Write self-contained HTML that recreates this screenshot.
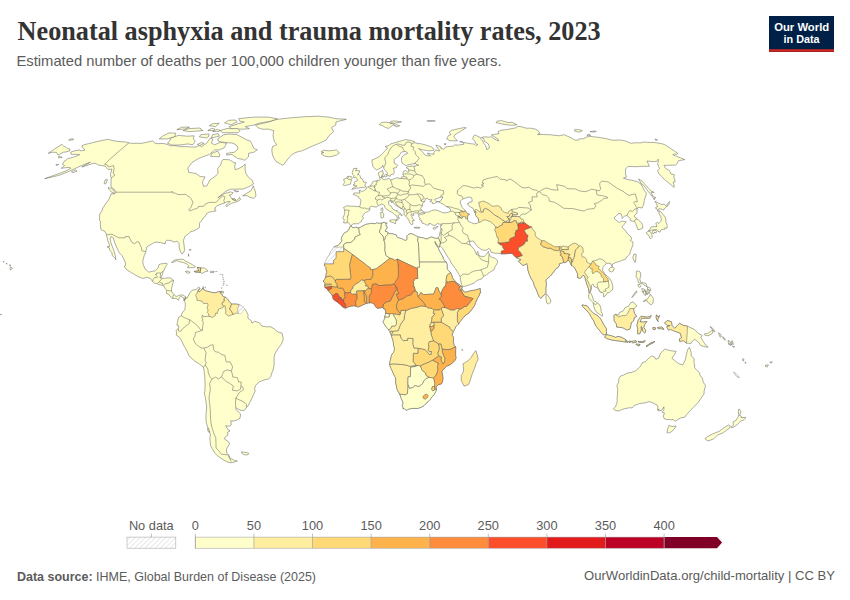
<!DOCTYPE html>
<html><head><meta charset="utf-8">
<style>
html,body{margin:0;padding:0;background:#fff;}
body{width:850px;height:600px;position:relative;overflow:hidden;font-family:"Liberation Sans",sans-serif;}
svg text{font-family:"Liberation Sans",sans-serif;}
</style></head><body>
<svg width="850" height="600" style="position:absolute;left:0;top:0">
<defs>
<pattern id="hatch" patternUnits="userSpaceOnUse" width="3.5" height="3.5" patternTransform="rotate(45)"><rect width="3.5" height="3.5" fill="#fff"/><line x1="0" y1="0" x2="0" y2="3.5" stroke="#d0d0d0" stroke-width="1.2"/></pattern>
<pattern id="hatch2" patternUnits="userSpaceOnUse" width="3.6" height="3.6" patternTransform="rotate(45)"><rect width="3.6" height="3.6" fill="#fff"/><line x1="0" y1="0" x2="0" y2="3.6" stroke="#d6d6d6" stroke-width="1.1"/></pattern>
</defs>
<text x="17.6" y="40.1" textLength="583" lengthAdjust="spacingAndGlyphs" style="font-family:'Liberation Serif',serif;font-weight:bold;font-size:27.5px;fill:#333">Neonatal asphyxia and trauma mortality rates, 2023</text>
<text x="16.5" y="66" textLength="485" lengthAdjust="spacingAndGlyphs" style="font-size:14.2px;fill:#5b5b5b">Estimated number of deaths per 100,000 children younger than five years.</text>
<rect x="769" y="16" width="65" height="36" fill="#002147"/>
<rect x="769" y="49.2" width="65" height="2.6" fill="#ce261e"/>
<text x="774.2" y="30.6" textLength="55" lengthAdjust="spacingAndGlyphs" style="font-size:11.4px;font-weight:bold;fill:#fff">Our World</text>
<text x="783.6" y="42.8" textLength="36" lengthAdjust="spacingAndGlyphs" style="font-size:11.4px;font-weight:bold;fill:#fff">in Data</text>
<g fill="#ffffcc" stroke="#5a5a5a" stroke-width="0.5" stroke-linejoin="round">
<path d="M350.2,226.2 L350.5,226.2 L351.5,225.9 L351.6,226.7 L352.9,227.7 L354.6,227.6 L356.7,227.1 L356.8,227.7 L358.3,228.0 L358.3,228.0 L360.2,227.5 L361.8,226.3 L363.3,225.9 L365.9,224.3 L368.0,224.1 L369.5,223.6 L371.7,223.3 L374.0,223.7 L375.5,223.6 L376.8,222.8 L377.9,223.3 L379.8,223.3 L381.6,223.2 L381.6,223.2 L381.9,223.2 L383.9,222.3 L384.3,222.3 L385.1,222.7 L385.2,223.4 L385.9,223.3 L386.8,222.8 L386.6,223.8 L385.8,224.6 L386.1,226.2 L386.5,226.3 L387.1,226.9 L387.0,228.0 L386.4,229.0 L385.5,230.1 L385.1,231.1 L386.0,231.9 L386.8,231.5 L387.3,232.2 L388.2,232.9 L388.2,232.9 L390.0,233.8 L391.9,233.7 L394.4,234.4 L396.4,235.0 L396.9,236.6 L397.6,237.6 L399.6,238.1 L401.6,238.7 L403.4,239.5 L405.0,240.5 L406.3,240.2 L407.1,239.2 L407.0,237.4 L407.0,235.8 L408.0,234.8 L408.9,234.2 L410.5,233.7 L412.5,234.1 L413.7,234.5 L415.6,235.8 L417.8,236.6 L418.3,237.1 L418.3,237.1 L419.1,237.2 L422.9,237.8 L424.7,238.4 L427.0,239.1 L428.9,238.1 L429.9,237.5 L431.2,237.1 L433.0,237.4 L434.1,238.0 L435.7,238.4 L437.5,238.3 L438.3,237.8 L438.3,237.8 L439.2,239.7 L440.3,242.6 L440.3,242.6 L439.9,244.0 L439.6,245.7 L439.3,246.7 L439.3,247.2 L438.1,246.4 L437.7,245.8 L436.7,244.4 L435.4,242.3 L435.0,241.4 L434.7,242.1 L435.3,243.4 L435.4,243.6 L436.0,244.9 L436.6,245.6 L437.6,247.3 L438.5,248.6 L438.8,249.7 L439.7,251.4 L440.4,252.7 L441.2,254.0 L442.0,255.6 L442.7,257.0 L443.4,257.2 L443.1,258.7 L444.5,260.3 L446.2,262.1 L446.2,262.1 L447.2,264.7 L447.1,266.8 L447.2,268.4 L447.6,269.7 L448.5,270.7 L450.6,272.5 L450.6,272.5 L451.7,275.2 L452.5,277.8 L452.9,278.8 L453.7,279.3 L454.7,280.6 L457.1,283.2 L459.0,284.5 L460.6,285.6 L461.6,286.4 L461.6,286.4 L462.2,287.1 L462.3,288.2 L461.2,288.7 L460.3,289.4 L461.8,289.2 L462.0,289.6 L462.0,289.6 L462.5,289.9 L464.5,292.1 L466.1,292.2 L468.4,291.4 L471.8,290.5 L474.1,290.3 L475.7,290.0 L478.4,289.0 L480.3,288.6 L480.2,290.8 L480.8,292.4 L479.9,292.9 L479.5,295.2 L477.8,297.8 L477.3,298.7 L475.6,302.5 L474.5,305.5 L472.7,308.3 L470.0,311.9 L467.4,314.1 L466.0,315.0 L463.2,317.6 L461.0,320.4 L459.5,322.1 L458.7,323.8 L458.7,323.8 L457.2,325.4 L455.5,326.8 L455.3,327.8 L454.2,330.0 L453.2,331.6 L453.2,331.6 L452.9,332.7 L452.2,335.1 L453.3,337.2 L453.7,339.0 L453.2,341.1 L453.6,342.7 L454.0,345.5 L455.7,346.8 L455.7,346.8 L455.7,349.4 L455.6,353.3 L455.7,355.9 L455.9,357.2 L455.9,358.6 L454.6,360.9 L453.8,361.7 L450.5,364.5 L446.8,366.1 L444.6,368.2 L441.9,371.2 L442.3,373.9 L442.8,376.3 L442.9,379.1 L442.5,381.7 L441.5,383.8 L438.3,384.7 L435.9,387.1 L436.3,388.0 L436.4,389.4 L436.4,389.4 L435.6,391.9 L434.1,394.5 L431.7,397.3 L430.2,399.5 L427.9,401.8 L425.8,403.6 L424.1,405.5 L421.1,407.3 L418.8,408.0 L417.0,408.6 L414.0,408.3 L411.3,408.5 L408.7,409.1 L406.5,410.2 L404.8,409.2 L404.0,408.3 L403.2,409.0 L403.2,407.9 L402.6,406.2 L402.3,405.5 L402.9,403.9 L403.2,403.1 L402.4,401.0 L401.2,398.4 L400.5,395.8 L399.6,394.1 L399.6,394.1 L398.0,391.1 L396.9,388.9 L396.4,385.9 L395.6,382.0 L395.7,379.3 L395.5,377.6 L394.5,376.2 L393.1,372.9 L391.6,369.5 L390.3,366.9 L389.7,364.4 L389.7,364.4 L389.9,361.9 L390.7,359.1 L391.3,355.9 L392.3,353.9 L393.7,352.3 L394.0,351.6 L394.6,348.1 L393.5,345.5 L393.4,342.4 L392.7,339.5 L391.5,336.4 L391.3,335.4 L391.3,335.4 L391.1,334.6 L391.1,334.6 L390.6,333.3 L390.2,332.5 L390.2,332.5 L390.3,331.9 L389.3,330.9 L388.6,329.8 L388.6,329.8 L387.5,328.4 L386.1,326.8 L384.5,324.4 L383.5,322.8 L383.1,321.2 L384.0,320.2 L384.5,318.9 L384.8,318.4 L385.0,317.4 L384.5,316.9 L384.5,316.9 L385.5,314.6 L385.6,313.3 L385.6,313.3 L385.8,311.8 L385.4,310.1 L385.1,309.0 L383.7,309.0 L383.5,307.7 L382.6,307.5 L382.6,307.5 L382.1,307.0 L380.3,308.0 L379.1,308.0 L377.1,308.3 L375.7,306.7 L374.5,304.9 L373.6,303.3 L370.9,302.7 L369.3,302.9 L369.3,302.9 L368.6,302.9 L366.8,303.2 L366.8,303.2 L365.8,303.5 L365.8,303.5 L364.4,304.3 L363.1,304.7 L362.6,305.0 L360.8,305.9 L360.2,306.2 L359.0,306.7 L358.2,307.1 L356.4,306.4 L355.9,306.2 L355.9,306.2 L353.9,305.8 L351.6,306.0 L349.3,306.6 L347.8,307.1 L345.7,308.1 L345.7,308.1 L345.3,308.1 L343.5,307.5 L342.2,306.4 L341.0,305.4 L340.0,304.1 L338.2,303.0 L336.6,301.4 L336.6,301.4 L334.6,300.4 L333.3,298.9 L332.7,297.4 L333.0,296.3 L332.5,295.9 L332.5,295.9 L331.6,294.7 L331.0,293.7 L329.6,292.1 L328.7,291.1 L328.7,291.1 L327.6,290.0 L327.4,288.6 L326.0,288.4 L325.3,287.7 L324.9,287.3 L324.9,287.3 L324.8,285.4 L324.8,285.4 L325.1,284.4 L325.3,284.0 L325.3,284.0 L324.7,283.0 L324.0,281.8 L323.1,281.1 L323.8,280.8 L324.5,279.6 L325.5,277.6 L325.5,277.5 L325.5,277.5 L326.0,275.2 L326.6,272.5 L326.8,272.3 L326.4,269.9 L325.7,269.0 L326.2,267.6 L325.3,266.6 L324.5,265.3 L324.6,263.9 L324.6,263.9 L325.0,262.1 L326.1,260.6 L327.1,258.5 L327.2,257.7 L328.5,256.1 L329.7,254.3 L330.7,251.4 L332.3,249.6 L333.7,247.3 L333.7,247.3 L334.4,246.6 L337.5,245.7 L338.4,245.2 L339.8,243.9 L340.5,242.9 L341.6,241.3 L341.9,240.2 L341.3,239.6 L341.5,238.4 L341.6,237.4 L342.8,235.3 L343.3,234.5 L344.5,232.8 L346.5,231.9 L348.1,230.8 L348.7,230.1 L349.7,227.7 L350.2,226.2Z"/>
<path d="M351.5,225.3 L350.9,225.6 L349.5,224.3 L349.3,223.6 L348.1,222.5 L347.1,222.6 L346.0,223.0 L343.7,223.0 L344.0,220.6 L344.2,219.3 L342.8,218.4 L343.0,216.9 L343.8,216.3 L344.5,213.6 L344.8,212.3 L344.4,210.4 L344.7,209.6 L343.6,207.8 L343.9,207.0 L345.6,206.6 L347.0,205.5 L348.5,206.1 L351.2,206.1 L355.1,206.3 L356.9,206.6 L359.3,206.6 L359.3,206.6 L359.8,206.3 L360.6,203.3 L360.8,200.8 L360.7,199.4 L358.8,197.8 L358.6,196.6 L356.8,196.0 L356.2,195.5 L353.5,194.6 L353.4,193.8 L353.8,193.2 L355.0,192.9 L359.0,193.1 L360.0,193.1 L359.8,192.6 L359.1,190.4 L359.8,190.5 L360.5,190.5 L360.8,191.2 L362.4,191.4 L363.3,190.9 L365.2,189.8 L366.2,189.2 L366.2,187.8 L366.7,187.2 L367.8,187.0 L368.1,186.9 L368.1,186.9 L368.8,186.6 L369.7,186.2 L370.2,186.0 L370.9,184.8 L371.5,184.4 L372.1,183.5 L372.3,182.2 L373.8,181.4 L374.7,181.0 L376.5,181.3 L377.1,181.4 L377.1,181.4 L376.8,180.4 L378.6,180.4 L378.8,180.9 L379.9,180.0 L380.3,179.4 L379.7,178.4 L379.7,177.4 L379.7,177.4 L379.2,176.0 L378.5,174.7 L378.6,172.8 L379.3,172.1 L381.1,171.2 L382.9,170.5 L382.8,171.6 L383.0,172.3 L382.6,173.0 L383.8,173.8 L382.5,174.4 L382.2,175.7 L381.4,176.0 L381.9,177.2 L381.2,177.7 L381.2,177.7 L382.3,178.2 L382.7,178.8 L384.1,179.8 L385.3,179.4 L386.5,179.2 L388.2,178.7 L388.9,178.2 L389.8,179.4 L390.6,179.9 L390.6,179.9 L393.2,179.2 L394.9,178.3 L396.9,177.8 L398.3,177.6 L399.1,178.8 L401.0,178.5 L401.0,178.5 L401.3,177.3 L403.3,176.5 L403.4,175.5 L403.1,174.6 L402.9,173.5 L403.6,171.3 L405.5,170.5 L407.4,172.1 L408.6,172.2 L409.0,171.1 L408.6,170.2 L408.8,169.0 L406.8,168.2 L406.6,167.0 L408.8,166.4 L412.0,166.1 L414.9,166.3 L416.4,165.3 L418.8,165.2 L416.3,164.6 L415.5,163.4 L413.9,163.8 L413.9,163.8 L412.4,163.9 L410.6,164.3 L408.8,164.7 L407.1,165.1 L405.3,165.5 L403.8,164.0 L402.1,163.2 L401.5,160.8 L401.6,157.8 L402.5,156.1 L404.4,154.7 L407.6,153.4 L406.8,152.0 L404.9,151.4 L404.9,151.4 L403.2,151.7 L401.6,152.0 L400.2,153.9 L398.9,156.1 L396.1,158.0 L394.1,159.4 L394.4,163.5 L396.6,164.4 L397.8,165.3 L396.5,166.7 L396.5,167.5 L393.2,168.4 L394.2,170.6 L394.0,173.1 L393.3,174.5 L392.7,174.3 L390.7,174.7 L390.3,176.2 L389.5,176.1 L387.9,175.7 L387.2,174.6 L387.4,173.1 L385.5,170.6 L383.9,168.9 L383.7,167.5 L383.7,167.5 L382.7,165.3 L382.0,167.2 L379.8,168.4 L378.0,169.5 L376.3,169.9 L373.6,167.5 L372.7,166.3 L372.8,164.1 L372.0,162.7 L372.1,160.8 L372.2,159.9 L374.1,159.2 L376.8,157.8 L378.7,156.8 L380.4,155.7 L382.3,153.6 L384.7,151.1 L387.6,148.2 L385.1,146.6 L387.1,146.0 L389.1,145.5 L390.6,143.9 L392.6,143.4 L394.5,142.9 L396.9,142.0 L399.4,141.4 L401.9,140.7 L403.5,140.2 L405.1,139.7 L408.0,140.0 L409.7,140.2 L412.0,140.8 L414.3,141.4 L414.1,142.6 L414.1,142.6 L416.1,143.0 L418.0,143.5 L419.8,143.7 L421.5,143.9 L423.3,144.4 L425.1,144.8 L428.0,145.9 L430.4,146.4 L433.0,148.1 L434.0,149.9 L432.1,150.6 L430.4,150.7 L428.7,150.8 L426.5,150.5 L424.2,150.2 L422.4,149.7 L420.4,149.2 L418.5,148.6 L420.8,150.4 L423.9,153.4 L424.2,154.5 L426.7,155.7 L428.6,155.8 L430.5,155.9 L428.7,154.7 L427.0,153.6 L427.7,153.1 L430.5,153.8 L433.3,154.3 L434.2,154.3 L433.5,153.1 L434.9,151.1 L435.7,149.9 L437.6,150.5 L439.5,151.1 L439.1,149.9 L437.8,148.1 L435.9,145.2 L437.5,145.5 L441.1,147.0 L440.8,148.4 L443.7,149.3 L445.4,147.2 L447.7,146.6 L450.6,146.4 L453.4,146.1 L454.6,144.8 L458.1,145.2 L459.6,144.9 L461.1,144.6 L463.5,144.4 L463.7,142.6 L466.9,143.0 L468.8,143.4 L470.6,143.7 L472.4,143.9 L474.2,144.1 L475.8,145.5 L477.8,144.6 L475.4,143.3 L474.9,141.1 L472.7,138.9 L473.4,136.4 L474.8,134.9 L477.1,136.0 L480.3,137.5 L480.8,138.9 L482.8,141.1 L483.7,143.3 L485.6,145.5 L486.8,149.7 L488.1,148.9 L489.3,148.1 L489.1,145.7 L488.1,143.7 L484.1,141.1 L483.9,138.7 L481.4,137.5 L483.0,137.1 L484.6,136.8 L486.6,137.0 L488.5,137.2 L490.3,137.0 L492.2,136.8 L493.8,138.9 L496.3,140.0 L498.7,141.1 L497.9,138.9 L494.7,136.9 L491.4,134.9 L493.5,134.5 L495.5,134.1 L497.3,133.9 L499.0,133.7 L497.9,131.6 L499.5,130.9 L501.1,130.2 L502.9,130.0 L504.7,129.8 L506.6,129.6 L508.2,129.3 L509.9,129.0 L511.5,128.6 L513.4,128.3 L515.3,128.0 L516.7,127.2 L518.0,126.3 L520.1,126.6 L522.1,126.9 L526.1,128.2 L528.4,128.2 L530.7,128.2 L533.2,128.7 L535.8,129.2 L539.0,131.6 L539.9,133.7 L538.7,134.0 L537.5,134.3 L540.4,134.4 L543.3,134.5 L545.4,134.6 L547.6,134.7 L549.8,134.7 L552.9,135.1 L556.0,135.4 L559.1,135.8 L560.7,135.4 L562.4,135.1 L564.1,134.7 L567.7,136.3 L571.3,137.9 L574.7,140.0 L576.5,140.1 L578.3,140.2 L579.1,138.9 L581.4,138.8 L583.7,138.7 L585.0,137.9 L586.3,137.0 L588.3,136.7 L590.2,136.4 L592.8,136.7 L595.3,137.0 L597.8,137.2 L600.7,137.7 L603.6,138.2 L606.4,138.7 L609.5,139.5 L612.6,140.2 L615.0,140.2 L617.3,140.1 L619.7,140.0 L622.4,140.4 L625.0,140.9 L631.0,143.3 L633.2,143.0 L635.3,142.8 L638.2,142.8 L641.1,142.8 L642.6,142.4 L644.0,142.0 L645.9,142.2 L647.9,142.4 L650.3,142.5 L652.6,142.5 L654.9,142.6 L657.8,143.0 L660.8,143.5 L664.3,144.4 L664.3,144.4 L668.9,147.3 L673.4,150.3 L677.9,153.4 L676.5,154.3 L674.5,154.0 L672.8,154.7 L676.8,156.4 L680.8,158.0 L684.9,159.6 L682.7,160.0 L680.5,160.4 L678.3,160.8 L677.6,162.3 L676.9,163.9 L675.6,165.1 L673.2,165.1 L670.9,165.2 L668.5,165.3 L666.2,165.3 L663.9,165.3 L665.7,168.4 L669.5,170.6 L671.0,174.0 L674.3,174.7 L673.9,177.2 L675.2,181.6 L673.1,182.1 L674.3,185.9 L674.1,187.4 L670.6,184.6 L667.7,182.1 L664.6,179.7 L661.7,176.6 L658.7,173.5 L657.6,170.4 L658.6,169.5 L659.5,168.7 L658.6,166.3 L657.6,163.9 L658.1,162.3 L658.5,160.8 L658.2,159.2 L657.4,160.3 L656.6,161.5 L654.8,161.5 L653.0,161.5 L650.0,161.3 L647.0,161.0 L648.2,163.6 L649.4,166.3 L646.9,166.3 L644.4,166.3 L642.0,166.3 L639.5,166.5 L636.9,166.7 L634.4,166.7 L631.8,166.6 L629.3,166.5 L627.8,166.5 L626.7,167.8 L625.5,169.1 L625.5,171.4 L625.5,173.6 L626.4,177.2 L624.9,177.7 L623.4,178.2 L628.2,179.7 L631.9,180.2 L634.8,181.0 L637.7,181.9 L641.0,184.1 L642.5,186.9 L643.8,189.7 L646.5,193.4 L645.3,197.3 L644.3,200.3 L643.8,204.2 L642.9,206.1 L642.1,208.0 L638.2,207.3 L637.0,209.3 L637.0,209.3 L637.0,212.7 L636.9,213.2 L634.6,215.3 L634.4,216.8 L637.4,218.9 L641.5,223.0 L642.7,225.6 L642.9,228.0 L640.2,229.3 L638.0,229.8 L637.0,226.9 L635.7,223.6 L634.4,221.2 L632.3,221.2 L630.1,220.2 L630.3,218.4 L627.3,215.8 L626.9,215.5 L626.9,215.5 L624.3,216.3 L622.2,218.4 L621.9,216.6 L621.2,214.0 L618.7,213.2 L616.7,215.5 L614.4,217.3 L614.5,218.9 L618.1,221.7 L619.3,222.5 L621.9,221.0 L626.4,222.0 L624.0,224.3 L621.9,226.9 L624.9,230.1 L627.8,234.2 L630.8,236.6 L631.7,238.9 L630.2,240.5 L632.9,241.8 L632.8,245.2 L631.5,248.6 L630.3,251.7 L629.6,254.3 L627.7,255.9 L625.1,259.5 L621.9,260.3 L620.2,261.3 L618.7,261.6 L615.5,262.6 L612.4,264.2 L612.1,266.6 L610.5,263.4 L607.7,263.2 L606.6,263.3 L606.6,263.3 L604.1,265.8 L602.8,267.6 L602.6,270.7 L604.9,273.9 L607.5,276.5 L609.3,277.8 L611.6,281.7 L612.3,284.3 L612.9,286.9 L612.5,289.7 L609.3,292.4 L607.5,292.6 L606.1,295.2 L603.5,297.0 L603.4,293.4 L602.3,292.4 L600.4,292.1 L598.8,289.5 L598.5,289.1 L597.0,287.7 L593.9,286.4 L593.5,284.5 L592.5,284.3 L591.5,285.1 L591.6,288.2 L590.3,292.4 L592.1,295.5 L593.6,300.4 L594.6,301.5 L596.2,301.7 L597.6,303.3 L599.8,304.9 L600.8,307.7 L601.2,311.6 L601.9,312.9 L602.9,315.8 L602.0,316.1 L601.3,315.6 L598.9,313.7 L596.1,311.9 L594.7,309.3 L593.6,305.9 L593.2,302.8 L592.0,301.5 L589.1,298.6 L588.5,296.0 L589.2,292.9 L588.4,288.2 L586.8,284.3 L586.1,281.7 L585.3,279.1 L585.0,276.5 L583.0,275.2 L580.5,278.3 L577.7,277.8 L577.6,273.9 L576.0,270.5 L574.5,267.6 L572.7,266.0 L571.5,265.5 L571.5,265.5 L570.3,263.2 L569.8,261.3 L567.8,260.0 L566.9,261.6 L564.8,262.6 L563.6,262.4 L561.5,263.2 L559.3,263.7 L559.3,265.3 L558.2,267.3 L555.5,269.2 L553.6,272.0 L550.2,276.2 L547.9,278.0 L545.8,280.1 L546.4,284.5 L545.8,288.2 L545.9,292.6 L544.2,295.2 L542.4,296.3 L540.9,298.4 L538.7,296.0 L537.7,293.4 L536.5,290.0 L534.5,286.1 L533.2,281.7 L531.1,278.5 L529.3,274.4 L527.9,269.9 L527.5,266.0 L526.8,263.4 L526.0,264.2 L523.0,265.5 L518.4,261.3 L521.0,259.8 L517.6,258.2 L516.2,257.7 L514.2,255.6 L513.2,254.7 L512.1,253.3 L508.6,253.5 L505.2,253.8 L501.0,253.8 L501.0,253.8 L498.4,253.3 L495.1,253.3 L491.2,252.2 L490.2,249.6 L488.5,248.6 L486.9,249.9 L484.7,250.4 L481.2,249.4 L477.6,246.7 L475.7,244.4 L474.0,241.5 L472.4,241.0 L470.4,241.4 L469.2,241.4 L469.8,243.4 L470.5,245.2 L472.8,247.8 L474.6,249.9 L475.3,252.2 L476.9,254.8 L477.1,252.2 L477.7,251.4 L478.6,253.5 L478.7,255.3 L480.9,256.4 L484.2,256.4 L486.9,253.8 L488.4,251.4 L489.2,254.3 L489.5,255.6 L492.2,257.4 L494.7,258.0 L497.7,260.8 L497.0,263.7 L495.2,266.3 L494.0,269.9 L491.8,271.0 L489.0,272.8 L485.8,275.4 L483.6,276.2 L481.9,278.8 L479.5,279.6 L477.0,280.4 L474.2,283.0 L471.5,284.0 L468.7,285.1 L465.9,286.1 L462.5,286.4 L461.7,284.8 L460.6,280.4 L460.2,276.7 L458.6,273.9 L457.0,271.2 L455.4,268.6 L453.4,266.0 L451.5,263.4 L449.6,259.5 L447.2,256.1 L444.9,252.2 L442.3,248.1 L440.4,246.2 L439.9,245.2 L440.6,243.0 L440.4,242.4 L440.3,242.6 L439.2,239.7 L438.3,237.8 L439.3,235.8 L439.7,234.0 L439.8,233.2 L440.4,231.1 L440.9,229.8 L441.0,228.2 L440.5,226.9 L440.7,225.9 L441.1,224.1 L439.6,224.1 L437.4,223.6 L435.4,225.1 L433.3,225.4 L430.9,223.8 L429.1,223.3 L428.9,224.9 L426.8,225.1 L424.5,223.8 L422.0,223.0 L421.6,220.7 L419.5,219.7 L420.2,218.1 L418.6,216.6 L419.2,215.0 L418.6,215.1 L418.0,213.7 L418.1,213.3 L418.1,213.3 L417.8,213.1 L414.6,212.9 L413.2,213.4 L413.8,215.3 L412.5,215.4 L411.5,213.7 L411.0,215.3 L412.5,217.3 L411.9,218.1 L413.3,219.4 L414.5,220.4 L412.3,220.7 L412.9,222.5 L412.7,224.3 L411.6,224.6 L410.2,223.6 L409.4,221.5 L408.6,219.9 L408.2,219.7 L407.9,218.4 L407.2,217.8 L405.8,216.3 L405.5,216.0 L404.1,214.5 L404.2,212.7 L403.8,210.6 L403.7,210.3 L402.2,209.1 L401.8,208.9 L399.6,207.5 L397.2,206.2 L395.0,204.9 L393.9,203.4 L392.5,201.6 L391.8,202.9 L390.8,201.1 L391.0,200.7 L391.0,200.7 L390.0,200.6 L388.4,201.3 L388.7,202.9 L388.5,204.2 L389.2,204.8 L391.1,206.0 L392.8,209.1 L395.0,210.3 L397.1,210.3 L396.5,211.4 L398.7,212.4 L401.1,213.7 L402.3,215.0 L402.0,215.8 L399.5,214.1 L398.3,215.3 L398.4,217.8 L399.5,217.8 L398.3,219.4 L396.6,220.6 L396.8,218.9 L397.6,218.1 L396.4,215.5 L394.8,214.7 L393.3,213.2 L391.7,212.2 L389.6,211.4 L388.7,210.6 L386.3,209.1 L385.0,207.5 L384.5,205.5 L383.4,204.7 L381.5,203.9 L379.7,205.2 L378.6,205.5 L378.6,205.5 L377.6,206.2 L376.0,207.3 L374.3,206.7 L373.0,206.5 L371.2,206.2 L369.5,207.5 L369.8,208.9 L369.8,208.9 L369.8,210.3 L367.7,211.6 L365.2,212.7 L364.1,214.0 L363.1,215.5 L362.4,216.7 L363.5,218.4 L362.0,219.7 L361.3,221.5 L359.6,222.5 L358.5,223.8 L356.6,223.7 L353.6,223.8 L352.3,224.3 L351.5,225.3Z"/>
<path d="M61.8,144.4 L62.4,145.0 L63.1,145.7 L64.4,146.5 L65.8,147.2 L66.8,148.0 L67.8,148.8 L70.0,149.0 L69.6,150.9 L65.9,152.0 L63.3,152.2 L58.9,154.7 L57.7,154.7 L57.0,153.4 L56.5,152.4 L54.5,152.3 L52.5,152.2 L48.2,153.4 L52.7,150.3 L57.2,147.3Z"/>
<path d="M70.9,152.0 L75.5,150.6 L77.7,150.3 L79.9,149.9 L80.4,150.8 L82.4,150.6 L84.5,150.4 L84.4,149.0 L83.3,148.6 L82.5,147.2 L81.8,145.8 L84.5,144.6 L88.6,143.7 L92.6,142.7 L96.5,141.7 L100.4,140.8 L104.4,140.0 L108.3,139.3 L109.7,139.7 L111.0,140.2 L113.5,140.7 L115.9,141.1 L118.4,141.5 L120.9,141.7 L123.3,141.8 L125.8,142.0 L127.3,142.4 L128.8,142.9 L130.3,143.1 L131.7,143.3 L134.0,143.3 L136.2,143.3 L138.4,143.3 L140.0,143.3 L141.6,143.4 L145.4,142.5 L149.1,141.7 L152.8,140.9 L153.9,142.1 L155.0,143.3 L156.3,143.6 L158.6,143.6 L160.9,143.5 L163.1,143.5 L165.2,143.9 L167.2,144.4 L168.9,145.1 L170.7,145.9 L172.6,145.7 L174.5,145.5 L176.4,145.8 L178.3,146.2 L180.2,146.6 L182.5,146.6 L184.7,146.6 L187.0,146.6 L189.3,146.8 L191.7,147.0 L193.8,147.0 L195.9,147.0 L198.9,145.5 L200.1,146.0 L201.4,146.6 L206.6,143.3 L208.4,140.7 L210.3,138.1 L211.5,138.5 L212.8,138.9 L212.2,141.1 L211.6,143.3 L213.1,144.0 L214.6,144.8 L217.7,143.5 L220.8,142.2 L222.7,142.5 L224.6,142.9 L226.6,143.3 L225.4,145.5 L224.3,147.7 L221.8,148.8 L219.3,149.9 L217.0,149.9 L214.7,149.9 L212.0,152.2 L209.2,154.5 L205.4,155.9 L201.6,157.3 L198.3,158.5 L192.0,162.5 L189.9,165.2 L187.9,168.0 L188.6,171.8 L188.6,172.3 L191.1,172.7 L193.6,173.1 L196.0,173.5 L198.0,175.0 L200.1,176.5 L202.5,176.7 L205.0,176.9 L203.7,179.5 L202.4,182.1 L203.5,186.4 L206.9,185.9 L208.5,182.8 L210.1,179.7 L215.7,176.0 L217.9,173.5 L217.9,169.9 L217.4,168.8 L220.6,165.1 L221.4,162.0 L223.1,159.4 L226.5,159.6 L229.9,159.9 L231.8,161.3 L233.8,162.7 L235.6,162.7 L234.7,166.3 L235.1,169.6 L238.0,168.9 L240.5,167.6 L243.0,166.3 L245.1,164.1 L245.1,167.0 L245.1,169.9 L246.0,173.5 L247.9,176.7 L249.3,177.9 L250.8,179.2 L252.3,180.4 L253.5,184.1 L249.9,186.1 L246.7,187.6 L243.4,189.0 L240.7,189.1 L238.0,189.1 L235.4,189.2 L233.0,189.2 L230.6,189.2 L228.0,190.3 L225.5,191.4 L222.0,194.3 L217.8,197.8 L220.8,196.0 L224.8,193.4 L227.6,192.7 L230.4,191.9 L233.1,192.7 L231.4,194.7 L229.3,195.0 L231.0,197.3 L232.0,199.3 L233.7,200.3 L236.6,200.8 L239.7,197.3 L240.4,199.8 L237.4,201.6 L234.5,202.4 L231.6,203.3 L226.4,206.5 L225.7,205.5 L230.2,201.6 L227.0,201.7 L224.6,202.9 L224.6,202.9 L221.1,204.2 L217.0,205.8 L215.4,207.3 L215.4,208.4 L214.2,209.2 L216.0,210.3 L215.8,211.1 L214.5,211.2 L212.7,211.5 L209.4,212.0 L206.5,213.7 L206.3,214.5 L204.7,216.9 L203.2,218.0 L202.6,218.9 L202.4,219.7 L199.7,222.8 L199.5,223.4 L199.4,227.6 L196.8,229.3 L193.2,231.1 L190.9,231.6 L188.1,234.1 L185.2,236.1 L183.4,240.4 L184.1,245.3 L184.5,249.9 L183.8,252.4 L181.9,253.9 L180.3,251.3 L179.1,247.0 L179.1,243.6 L177.0,241.1 L174.1,242.1 L170.5,240.4 L168.7,240.4 L166.8,240.2 L165.5,241.3 L165.1,243.9 L164.9,243.6 L163.6,243.4 L160.5,242.6 L158.0,242.3 L155.5,242.1 L153.1,243.1 L148.7,245.7 L146.5,247.3 L145.9,251.8 L145.9,251.8 L144.2,255.6 L143.4,258.5 L142.7,261.5 L143.3,264.7 L145.3,269.4 L147.7,271.0 L148.9,272.2 L153.4,271.0 L155.0,270.9 L158.2,267.7 L159.0,264.7 L160.8,263.9 L163.8,263.6 L166.8,263.2 L167.2,264.3 L165.4,266.8 L164.1,270.5 L162.9,271.3 L162.9,271.3 L162.8,273.9 L160.7,278.0 L162.2,278.5 L162.8,278.2 L165.4,278.3 L167.3,277.9 L170.7,278.0 L173.5,280.4 L172.3,285.6 L171.5,288.2 L171.5,291.0 L172.8,293.4 L173.8,294.5 L176.1,296.5 L178.4,295.7 L179.9,295.1 L183.1,295.0 L185.6,296.9 L184.2,300.7 L183.4,297.8 L180.7,296.1 L179.3,297.8 L178.5,300.2 L177.1,299.1 L175.6,298.4 L172.8,298.5 L171.2,297.6 L168.9,294.4 L166.6,293.7 L166.4,291.1 L166.8,290.6 L165.0,288.2 L163.6,285.8 L162.9,285.1 L160.9,285.1 L158.0,284.3 L157.4,283.6 L154.4,283.2 L152.7,281.5 L152.7,281.5 L150.2,278.3 L146.4,277.3 L143.3,278.5 L141.1,277.8 L139.0,277.0 L136.0,275.5 L132.7,273.3 L131.2,272.7 L129.0,271.2 L126.8,269.8 L124.2,266.3 L125.3,265.8 L125.6,263.3 L123.8,259.0 L122.0,255.6 L119.2,252.7 L117.8,249.7 L116.4,246.7 L114.7,242.6 L113.3,237.9 L110.9,236.6 L110.1,238.7 L110.6,241.3 L111.3,244.0 L113.0,248.2 L114.2,251.7 L115.5,256.5 L115.8,259.8 L115.4,258.3 L112.0,255.3 L112.2,253.0 L109.6,249.9 L108.9,247.3 L107.0,246.9 L109.5,246.5 L109.2,243.9 L107.5,240.2 L106.9,236.5 L106.4,234.7 L106.4,234.7 L106.4,234.2 L104.9,231.4 L102.9,230.5 L101.0,229.7 L100.6,226.9 L100.3,224.1 L100.4,221.0 L99.5,220.4 L99.6,217.3 L99.7,214.1 L102.3,210.1 L102.8,207.9 L105.9,203.5 L109.0,199.2 L110.1,196.5 L111.1,193.8 L115.0,193.7 L115.6,192.2 L115.7,191.4 L113.8,188.9 L112.5,188.0 L111.1,187.1 L111.0,184.6 L111.0,181.8 L111.1,178.9 L111.4,177.9 L110.7,176.5 L110.6,173.5 L112.0,169.1 L110.0,169.3 L107.9,169.4 L106.5,167.8 L105.1,166.1 L102.9,165.8 L100.7,165.4 L98.5,165.1 L96.5,163.8 L93.9,163.2 L88.6,164.8 L85.3,165.9 L81.9,167.0 L86.1,164.6 L90.4,162.2 L87.4,163.3 L84.4,164.4 L80.8,165.9 L77.3,167.5 L73.4,169.3 L69.6,171.1 L65.3,172.9 L60.9,174.7 L57.6,175.6 L54.3,176.5 L51.2,177.2 L48.0,177.9 L44.7,178.7 L49.1,177.1 L53.5,175.5 L56.6,174.4 L59.7,173.3 L62.9,172.1 L66.1,170.8 L70.9,168.2 L69.0,167.3 L65.1,167.8 L61.1,168.3 L64.6,165.5 L63.5,164.9 L62.4,164.4 L64.0,161.5 L67.6,158.9 L71.0,157.9 L74.4,156.8 L79.7,154.7 L78.2,154.5 L76.8,154.3 L74.5,154.4 L72.3,154.5 L70.9,154.0 L70.9,152.0Z"/>
<path d="M185.6,296.9 L186.8,298.4 L188.8,295.0 L190.0,292.4 L191.8,290.8 L193.2,290.0 L196.0,289.5 L198.4,287.4 L199.1,287.1 L199.9,288.6 L199.9,288.6 L198.4,290.5 L199.0,292.1 L200.5,290.8 L202.4,289.2 L203.0,287.7 L203.3,289.5 L206.4,291.1 L209.6,291.8 L211.9,292.4 L215.3,292.9 L218.8,291.6 L221.3,291.6 L219.9,292.6 L221.4,293.9 L223.6,297.0 L225.4,297.2 L225.4,297.2 L227.6,299.1 L229.4,301.7 L231.6,304.1 L231.6,304.1 L233.9,304.1 L236.2,304.1 L239.0,304.5 L239.0,304.5 L242.8,306.6 L244.4,308.5 L244.4,308.5 L245.7,310.3 L248.0,314.5 L247.9,318.2 L249.8,319.7 L251.4,320.8 L251.9,323.1 L254.9,321.3 L257.2,322.1 L259.5,322.8 L261.8,326.0 L264.1,326.4 L266.4,326.8 L268.7,326.8 L271.0,326.8 L274.5,329.1 L278.0,332.0 L281.9,333.0 L283.1,337.7 L283.0,340.4 L281.2,344.5 L278.3,348.1 L276.7,350.7 L275.1,353.3 L274.1,357.2 L274.1,361.3 L274.1,365.3 L273.5,367.9 L273.0,370.5 L272.0,372.4 L270.7,376.8 L268.6,379.1 L265.9,379.4 L262.8,380.4 L259.1,382.0 L255.6,385.4 L254.6,388.5 L255.1,391.4 L253.3,395.0 L251.6,398.9 L249.9,402.3 L248.2,405.5 L246.6,407.3 L246.6,407.3 L245.2,409.4 L243.8,410.5 L241.0,410.4 L238.0,409.1 L235.8,407.8 L235.8,407.8 L236.1,409.6 L238.5,412.0 L240.7,414.1 L239.9,418.5 L237.0,420.0 L235.0,420.6 L233.0,421.1 L230.8,420.8 L231.2,425.0 L229.0,426.3 L225.7,425.7 L227.9,429.6 L230.1,430.9 L227.6,432.2 L227.9,435.3 L225.3,436.8 L224.6,439.1 L228.5,441.7 L229.6,443.7 L227.4,447.2 L226.4,449.8 L226.8,453.3 L228.7,455.0 L229.2,455.8 L229.3,457.5 L232.2,459.3 L234.7,460.5 L237.4,461.0 L235.2,461.7 L232.7,462.5 L232.7,462.5 L229.9,462.7 L226.6,461.7 L222.5,459.3 L218.2,456.3 L214.8,453.0 L212.6,449.3 L210.6,445.5 L210.2,441.7 L209.8,437.8 L210.5,434.0 L208.1,430.1 L208.2,428.3 L206.5,423.7 L206.0,419.8 L206.0,415.9 L206.1,413.3 L206.4,410.7 L206.7,406.8 L206.1,402.9 L205.8,400.3 L205.5,397.6 L204.3,393.7 L205.0,389.8 L205.0,387.2 L205.1,384.6 L204.9,380.7 L204.8,378.1 L204.7,375.5 L204.3,372.9 L204.0,370.3 L203.4,367.3 L203.4,367.3 L201.0,365.3 L198.2,363.2 L195.8,361.7 L193.4,360.1 L189.2,355.9 L186.9,351.0 L185.4,348.3 L183.8,345.5 L182.6,342.9 L181.3,340.3 L179.3,337.2 L176.2,335.1 L176.6,332.5 L176.1,330.7 L178.3,328.3 L178.3,328.3 L179.0,326.0 L176.9,325.2 L177.7,320.8 L178.7,317.4 L181.2,315.8 L181.2,315.8 L182.2,312.9 L184.8,309.8 L185.3,306.4 L185.2,302.5 L184.2,300.7 L184.9,299.7 L185.6,296.9Z"/>
<path d="M255.6,125.1 L256.7,124.8 L259.7,124.1 L262.7,123.4 L265.7,122.7 L268.6,122.0 L271.3,121.1 L274.0,120.3 L276.6,119.5 L279.3,119.1 L282.0,118.8 L284.7,118.5 L287.3,118.2 L290.1,117.9 L292.7,117.7 L295.4,117.5 L298.1,117.3 L300.7,117.0 L303.4,116.8 L305.9,116.7 L308.5,116.6 L311.0,116.5 L313.5,116.4 L316.1,116.3 L318.6,116.2 L320.7,116.4 L322.7,116.6 L324.8,116.8 L326.9,116.9 L329.0,117.1 L331.1,117.6 L333.2,118.1 L335.4,118.7 L337.6,118.8 L339.7,118.9 L341.9,119.0 L344.1,119.2 L346.3,119.3 L343.8,120.0 L341.2,120.6 L338.5,121.3 L335.9,122.0 L335.9,124.8 L333.7,126.2 L331.5,127.6 L332.5,129.6 L333.6,131.6 L331.2,133.7 L328.8,135.8 L327.5,137.9 L326.3,140.0 L324.0,141.1 L321.7,142.2 L318.6,143.5 L315.5,144.8 L312.4,146.1 L309.2,147.6 L305.9,149.1 L302.6,150.6 L299.8,151.3 L297.0,152.0 L294.4,153.2 L291.8,154.5 L289.8,156.8 L287.7,159.2 L286.0,161.5 L284.4,163.9 L282.2,165.1 L280.6,164.1 L279.1,163.2 L277.6,162.3 L276.1,161.5 L274.9,159.7 L273.8,158.0 L272.5,154.5 L272.1,152.2 L271.8,149.9 L272.5,146.6 L274.6,145.7 L276.7,144.8 L275.4,142.9 L274.2,141.1 L273.7,138.9 L273.0,135.8 L273.4,133.2 L273.8,130.6 L272.1,130.2 L270.4,129.7 L268.7,129.2 L266.7,129.2 L264.6,129.2 L262.6,129.2 L261.0,128.7 L259.4,128.2 L257.8,127.6 L256.7,126.4Z"/>
<path d="M689.4,347.3 L691.1,352.0 L691.2,355.9 L694.2,358.6 L693.9,362.5 L694.4,363.5 L694.7,367.7 L696.9,370.3 L699.3,372.6 L700.2,375.5 L702.5,378.4 L703.1,382.0 L705.5,385.4 L704.9,388.3 L704.1,391.1 L704.0,394.0 L700.6,398.9 L697.8,402.9 L692.8,407.8 L690.6,410.2 L686.6,414.6 L684.9,417.2 L680.4,418.0 L675.1,421.3 L673.1,419.5 L670.8,419.8 L668.8,419.6 L666.7,419.5 L664.0,418.5 L663.4,416.4 L664.4,412.8 L662.0,412.2 L663.9,410.2 L663.9,406.8 L661.6,410.4 L658.2,410.7 L659.0,408.9 L657.6,410.2 L657.8,406.8 L656.8,404.9 L654.8,403.9 L652.8,402.9 L650.9,402.2 L648.9,401.6 L645.1,402.9 L642.2,403.2 L639.4,403.6 L636.8,404.6 L634.3,405.5 L632.3,407.8 L628.8,407.8 L625.9,408.5 L623.0,409.1 L619.0,410.9 L615.9,410.7 L613.3,408.9 L615.4,406.8 L617.0,402.9 L617.2,400.3 L617.2,397.6 L617.5,393.7 L617.6,391.1 L617.7,388.5 L616.8,385.9 L618.7,382.0 L618.9,378.6 L620.2,376.3 L623.6,375.0 L627.3,373.1 L631.5,372.4 L635.7,370.8 L639.2,367.7 L640.3,366.4 L642.5,362.5 L645.1,361.9 L648.4,358.6 L651.7,355.9 L654.6,357.0 L655.8,359.3 L658.5,358.3 L660.5,353.3 L662.1,351.8 L665.2,348.9 L666.7,349.7 L669.6,350.5 L672.9,351.0 L676.1,351.3 L674.8,354.1 L671.9,358.3 L674.9,360.6 L676.9,362.2 L678.9,363.8 L682.8,364.8 L685.3,359.9 L686.0,356.6 L686.6,353.3 L687.8,349.4Z"/>
<path d="M257.3,149.7 L254.4,152.0 L251.5,152.7 L248.5,153.4 L248.5,156.8 L244.9,160.3 L243.4,159.7 L241.9,159.2 L239.9,158.8 L237.8,158.5 L236.5,157.6 L235.2,156.8 L233.6,155.7 L232.1,154.5 L229.3,154.7 L226.5,155.0 L226.6,153.4 L229.2,153.0 L231.8,152.6 L234.3,152.2 L238.1,148.8 L237.4,147.1 L236.8,145.5 L235.0,144.4 L233.2,143.3 L231.2,143.0 L229.1,142.8 L227.1,142.6 L224.7,142.4 L222.4,142.2 L220.4,141.6 L218.3,141.1 L217.7,138.9 L220.7,136.8 L223.8,134.7 L226.4,134.4 L229.1,134.1 L231.6,134.3 L234.1,134.4 L236.6,134.5 L238.1,135.3 L239.6,136.1 L241.1,136.8 L243.1,137.9 L245.0,138.9 L247.0,140.0 L248.7,140.6 L250.4,141.1 L251.6,143.3 L252.3,144.9 L253.0,146.6 L254.3,148.8 L255.8,149.3Z"/>
<path d="M242.8,129.2 L245.0,129.0 L247.2,128.8 L249.4,128.6 L248.0,128.0 L246.6,127.3 L245.3,126.7 L248.4,126.0 L251.5,125.4 L254.5,124.8 L257.6,123.8 L260.6,122.9 L263.2,122.5 L265.8,122.0 L268.3,121.6 L270.9,121.1 L274.1,119.9 L277.3,118.7 L275.4,118.3 L273.5,118.0 L271.6,117.7 L269.7,117.4 L267.8,117.1 L265.5,117.1 L263.3,117.1 L261.0,117.1 L258.7,117.1 L256.5,117.1 L254.2,117.1 L251.6,117.4 L249.0,117.6 L246.4,117.9 L243.8,118.1 L241.2,118.4 L238.6,118.7 L239.1,119.9 L239.6,121.1 L241.2,121.4 L242.8,121.7 L244.3,122.0 L241.2,122.9 L238.0,123.8 L235.0,124.8 L231.9,125.7 L228.9,126.7 L230.0,127.6 L231.3,128.6 L233.6,128.8 L236.0,128.9 L238.4,129.0 L240.6,129.1Z"/>
<path d="M238.2,132.7 L235.6,132.7 L233.0,132.7 L230.4,132.7 L227.8,132.7 L225.2,132.7 L222.6,132.7 L221.2,131.6 L220.0,130.6 L223.4,129.6 L226.7,128.6 L229.4,128.6 L232.0,128.6 L234.7,128.6 L237.3,128.6 L238.6,129.6 L240.0,130.6Z"/>
<path d="M231.1,124.8 L229.4,124.3 L227.8,123.8 L226.2,123.4 L224.6,122.9 L228.7,120.3 L231.0,120.2 L233.2,120.1 L235.5,120.0 L236.3,121.0 L237.2,122.0 L234.1,123.4Z"/>
<path d="M192.8,144.8 L190.2,144.4 L187.7,143.9 L184.8,144.4 L181.9,144.8 L178.9,145.0 L176.0,145.1 L173.0,145.2 L171.2,144.6 L169.3,143.9 L167.5,143.3 L170.2,140.0 L170.9,137.9 L174.8,136.6 L178.7,135.4 L180.8,135.6 L183.0,135.8 L185.1,136.0 L187.3,136.2 L189.6,136.1 L191.9,135.9 L194.1,135.8 L193.3,138.9 L194.3,140.0 L195.3,141.1Z"/>
<path d="M159.2,138.9 L161.9,138.9 L164.6,138.9 L167.3,138.9 L171.2,137.7 L175.1,136.4 L175.3,134.8 L175.7,133.3 L173.5,133.1 L171.4,133.0 L169.2,132.9 L163.1,135.8Z"/>
<path d="M203.1,130.6 L200.4,130.8 L197.6,131.0 L194.9,131.2 L192.2,131.4 L189.5,131.6 L187.3,131.3 L185.2,131.0 L183.1,130.6 L186.0,129.6 L188.8,128.6 L191.7,128.5 L194.5,128.3 L197.4,128.2 L200.2,128.0 L200.8,129.0 L201.5,130.0Z"/>
<path d="M206.5,137.9 L204.1,137.5 L201.8,137.2 L199.4,136.8 L200.8,134.7 L203.5,134.5 L206.1,134.2 L208.8,133.9 L208.9,136.2Z"/>
<path d="M219.3,136.2 L216.6,136.8 L214.0,137.3 L211.3,137.9 L212.7,134.7 L215.6,134.2 L218.4,133.7 L218.8,134.9Z"/>
<path d="M199.8,145.5 L198.5,144.9 L197.3,144.4 L201.4,142.6 L202.7,142.9 L204.1,143.3Z"/>
<path d="M219.2,156.8 L216.3,156.7 L213.4,156.5 L210.6,156.4 L211.8,153.4 L214.7,152.2 L217.7,151.1 L218.7,152.8 L219.8,154.5Z"/>
<path d="M213.8,130.6 L211.9,130.6 L209.9,130.5 L207.9,130.4 L211.8,128.4 L213.3,128.7 L214.9,129.0Z"/>
<path d="M185.3,129.0 L182.4,129.2 L179.6,129.4 L176.8,129.6 L181.8,127.2 L184.4,127.2 L187.0,127.1 L189.5,127.1Z"/>
<path d="M215.5,126.7 L213.4,126.3 L211.3,126.0 L209.3,125.7 L212.5,123.8 L214.7,123.6 L216.9,123.5 L219.1,123.3Z"/>
<path d="M218.9,131.6 L216.8,131.6 L214.8,131.6 L212.7,131.6 L216.5,129.6 L218.2,129.8 L219.9,130.0Z"/>
<path d="M242.6,195.7 L246.7,193.3 L250.8,190.9 L252.1,188.4 L253.4,185.9 L254.2,188.4 L255.2,190.9 L255.6,193.4 L256.0,196.0 L253.5,198.3 L249.9,197.3 L247.3,195.7 L245.0,195.7Z"/>
<path d="M114.0,193.7 L111.6,192.2 L110.4,190.9 L109.3,189.7 L108.0,187.6 L110.4,188.1 L111.8,188.9 L113.3,189.7 L114.1,191.4Z"/>
<path d="M104.1,183.4 L105.3,179.7 L107.6,179.7 L105.5,184.1Z"/>
<path d="M232.0,199.0 L233.9,199.6 L235.8,200.1 L234.3,198.3Z"/>
<path d="M233.9,190.4 L236.2,190.9 L238.6,191.4 L235.4,191.9Z"/>
<path d="M77.1,171.1 L75.6,169.9 L71.5,171.6 L72.5,172.8Z"/>
<path d="M58.8,156.1 L60.5,156.7 L62.2,157.3 L58.6,158.0Z"/>
<path d="M58.7,164.4 L55.9,164.6 L56.4,165.5Z"/>
<path d="M171.6,262.5 L174.0,260.3 L176.3,259.8 L178.7,259.3 L180.9,259.3 L183.1,259.3 L185.7,261.0 L188.4,262.6 L192.2,264.5 L195.5,266.7 L193.4,267.6 L190.4,267.7 L187.3,267.7 L188.9,266.0 L186.0,263.4 L183.8,262.8 L181.7,262.1 L178.8,261.6 L176.7,260.6 L173.1,262.4Z"/>
<path d="M197.0,267.7 L198.4,267.5 L200.9,267.6 L204.7,268.2 L206.8,269.9 L208.1,271.0 L206.6,271.5 L204.3,272.0 L201.9,273.6 L200.4,272.4 L197.9,272.2 L194.8,272.0 L194.3,271.4 L196.7,271.1 L198.7,271.0 L198.3,269.7 L198.3,268.8Z"/>
<path d="M185.4,271.4 L188.5,271.2 L190.2,272.5 L187.8,273.3 L185.7,272.0Z"/>
<path d="M210.6,271.2 L214.3,271.5 L213.8,272.5 L210.6,272.7Z"/>
<path d="M189.0,250.1 L191.2,250.1 L190.3,249.1Z"/>
<path d="M188.4,253.8 L188.7,256.4 L188.5,254.8Z"/>
<path d="M222.7,277.2 L223.2,276.8 L223.5,277.2 L223.1,277.7Z"/>
<path d="M223.5,281.4 L224.0,280.9 L224.4,281.4 L223.9,281.9Z"/>
<path d="M222.9,279.3 L223.3,278.9 L223.7,279.3 L223.3,279.8Z"/>
<path d="M223.5,283.2 L224.0,282.8 L224.3,283.2 L223.9,283.7Z"/>
<path d="M226.6,285.2 L227.0,284.7 L227.4,285.2 L227.0,285.7Z"/>
<path d="M222.8,284.9 L223.3,284.5 L223.7,284.9 L223.2,285.4Z"/>
<path d="M221.5,287.9 L222.0,287.5 L222.3,287.9 L221.9,288.4Z"/>
<path d="M222.2,274.9 L222.7,274.4 L223.0,274.9 L222.6,275.4Z"/>
<path d="M220.1,274.4 L220.6,273.9 L220.9,274.4 L220.5,274.8Z"/>
<path d="M215.9,271.5 L216.4,271.0 L216.8,271.5 L216.3,272.0Z"/>
<path d="M202.8,286.9 L203.3,286.4 L203.7,286.9 L203.2,287.4Z"/>
<path d="M204.8,287.7 L205.3,287.2 L205.7,287.7 L205.2,288.1Z"/>
<path d="M221.3,291.3 L223.4,291.3 L223.3,293.1 L221.2,293.1Z"/>
<path d="M241.4,451.8 L243.9,452.2 L246.3,452.5 L248.9,453.3 L247.8,454.8 L244.1,454.8 L242.0,453.3Z"/>
<path d="M207.7,428.3 L208.8,428.8 L209.9,432.2 L208.3,431.9Z"/>
<path d="M669.0,425.5 L672.1,426.5 L676.2,426.0 L674.0,429.3 L671.2,431.9 L668.6,433.0 L667.0,432.7 L667.5,429.3Z"/>
<path d="M739.4,409.1 L740.9,411.5 L739.5,415.4 L741.4,416.1 L741.0,417.7 L745.1,417.4 L746.0,417.7 L743.1,420.3 L740.3,421.3 L739.3,422.6 L737.8,424.2 L733.9,427.0 L731.7,427.8 L731.0,427.0 L733.4,425.2 L733.1,422.4 L733.3,421.6 L735.7,420.6 L738.3,416.7 L738.7,414.6 L738.4,411.2 L738.6,409.4Z"/>
<path d="M728.5,425.0 L730.3,426.0 L729.8,427.8 L726.1,430.6 L722.3,433.2 L717.7,435.0 L713.5,438.9 L708.5,440.9 L706.1,439.9 L704.9,438.6 L707.6,436.5 L712.6,434.0 L715.8,432.7 L719.0,431.4 L723.3,428.3 L726.3,426.3Z"/>
<path d="M733.8,372.1 L736.6,374.2 L739.2,377.6 L737.1,376.8 L734.5,373.7Z"/>
<path d="M765.6,365.1 L768.4,364.8 L767.4,366.9 L765.5,366.6Z"/>
<path d="M769.7,362.2 L772.5,361.9 L771.1,363.2Z"/>
<path d="M742.8,358.6 L744.0,359.3 L743.4,361.2 L742.4,360.1Z"/>
<path d="M745.2,361.9 L746.0,362.5 L745.3,363.5Z"/>
<path d="M728.0,340.3 L730.1,341.6 L731.6,345.0 L728.7,344.2Z"/>
<path d="M731.3,341.1 L732.5,340.8 L733.3,344.5 L732.2,344.0Z"/>
<path d="M722.5,336.7 L724.7,338.2 L725.2,340.3 L723.5,339.0Z"/>
<path d="M729.0,343.7 L731.7,344.5 L730.9,345.3 L729.1,344.5Z"/>
<path d="M732.6,346.0 L734.6,347.1 L733.2,347.1Z"/>
<path d="M703.9,334.1 L707.8,333.3 L711.4,330.7 L713.3,330.4 L712.4,333.3 L708.8,335.6 L705.4,335.6Z"/>
<path d="M710.0,326.5 L712.7,328.3 L714.9,331.4 L714.3,332.2 L712.4,329.6Z"/>
<path d="M718.5,332.8 L720.2,333.8 L721.4,336.4 L720.2,337.2 L719.2,335.1Z"/>
<path d="M664.6,322.8 L667.6,320.5 L671.5,321.8 L671.9,325.5 L674.8,328.3 L677.1,325.8 L679.5,323.4 L682.9,325.2 L685.2,325.7 L687.5,326.2 L690.9,327.8 L694.3,329.4 L698.2,333.3 L702.2,335.4 L700.9,337.2 L702.5,340.3 L704.3,343.2 L706.7,346.3 L708.2,347.1 L706.2,347.1 L703.6,346.4 L701.0,345.8 L698.4,342.1 L694.8,339.3 L692.3,341.1 L691.0,343.4 L688.7,343.3 L686.4,343.2 L683.2,340.6 L679.7,341.4 L679.2,339.0 L681.6,337.7 L680.3,333.3 L677.1,332.1 L673.9,330.9 L670.6,329.4 L668.5,330.1 L666.8,326.8 L670.2,325.7 L666.8,325.2Z"/>
<path d="M0.3,314.5 L1.1,314.0 L1.3,314.8Z"/>
<path d="M10.6,266.8 L12.4,268.1 L10.6,270.2 L10.0,268.6Z"/>
<path d="M9.6,264.7 L10.8,265.3 L9.8,265.8Z"/>
<path d="M6.1,263.2 L7.3,263.9 L6.4,263.9Z"/>
<path d="M3.1,261.6 L4.2,261.6 L3.6,262.4Z"/>
<path d="M546.2,293.9 L547.1,294.4 L548.9,297.0 L550.8,299.9 L550.5,302.5 L548.3,304.0 L546.8,303.0 L545.9,298.1Z"/>
<path d="M582.1,304.9 L584.6,305.4 L587.2,305.9 L590.1,309.8 L593.9,313.7 L596.7,315.0 L600.2,318.2 L602.4,322.1 L603.5,324.4 L606.4,328.6 L606.4,331.6 L606.4,334.6 L603.2,334.8 L601.0,332.2 L598.1,328.8 L595.5,325.2 L593.7,320.8 L591.2,316.9 L589.3,313.5 L586.2,309.8 L582.6,306.7Z"/>
<path d="M604.7,337.2 L606.6,334.8 L610.1,335.4 L612.3,336.1 L615.7,337.4 L618.0,336.4 L621.7,337.4 L625.9,339.8 L625.5,342.1 L622.8,341.6 L620.0,341.1 L617.8,340.8 L615.5,340.6 L613.2,340.2 L611.0,339.8 L607.3,338.7Z"/>
<path d="M625.8,340.8 L628.3,341.6 L627.3,342.4 L626.0,341.6Z"/>
<path d="M629.2,341.1 L630.8,341.4 L630.0,342.7 L629.1,342.4Z"/>
<path d="M631.5,341.4 L633.8,341.1 L636.1,340.8 L636.3,342.1 L632.5,342.9Z"/>
<path d="M637.9,341.4 L641.8,341.6 L645.3,340.8 L644.0,342.4 L641.7,342.4 L639.4,342.4Z"/>
<path d="M635.9,344.0 L640.0,344.5 L639.1,346.0 L636.7,345.0Z"/>
<path d="M646.0,346.3 L648.4,344.5 L650.9,342.9 L654.9,341.4 L653.4,342.7 L649.6,344.5 L647.1,346.3Z"/>
<path d="M613.9,315.6 L615.0,314.2 L618.5,315.0 L619.6,312.4 L623.0,311.1 L625.2,307.5 L628.6,306.2 L630.9,302.5 L633.2,302.0 L637.1,305.9 L634.4,308.0 L633.6,310.3 L634.6,313.5 L636.7,316.6 L634.4,317.4 L633.5,321.0 L631.2,322.8 L630.6,326.5 L629.9,329.1 L626.6,329.9 L623.0,327.8 L619.6,327.3 L616.6,327.0 L616.4,323.9 L614.2,320.8 L614.2,318.2Z"/>
<path d="M636.9,325.2 L638.1,320.5 L639.5,318.2 L641.1,316.1 L643.9,316.9 L647.3,317.1 L649.6,316.6 L651.2,315.6 L649.7,318.4 L646.2,318.2 L643.9,318.2 L641.6,318.2 L640.0,321.8 L643.0,322.1 L646.9,321.5 L644.5,324.7 L643.7,327.3 L645.9,330.9 L644.6,333.0 L642.7,331.2 L642.1,327.3 L641.0,326.5 L641.3,329.9 L639.8,333.8 L637.7,333.8 L637.7,331.2 L637.7,328.6Z"/>
<path d="M656.5,314.8 L657.7,317.1 L659.5,315.6 L657.5,320.0 L658.2,321.5 L656.6,319.5 L656.1,316.9Z"/>
<path d="M657.5,327.5 L659.8,327.3 L662.2,327.0 L663.9,329.4 L660.9,328.6 L658.2,328.8Z"/>
<path d="M652.9,327.5 L655.5,327.8 L655.1,329.6 L653.1,329.4Z"/>
<path d="M643.2,301.2 L646.8,299.1 L648.3,298.1 L650.5,294.2 L653.4,298.6 L653.0,303.0 L651.3,304.9 L648.4,303.0 L646.9,300.4 L643.9,301.5Z"/>
<path d="M636.4,271.2 L638.4,271.0 L640.2,272.0 L640.8,275.7 L639.8,279.1 L640.7,282.5 L643.0,282.7 L646.1,283.5 L647.0,286.6 L644.8,285.6 L642.7,284.0 L640.4,283.5 L638.2,282.2 L637.7,279.1 L636.0,276.5 L636.4,273.9Z"/>
<path d="M647.2,286.9 L649.6,287.4 L650.8,290.5 L649.2,290.3 L647.7,289.2Z"/>
<path d="M647.5,289.5 L649.2,290.3 L649.9,292.6 L649.0,293.4 L648.0,291.8Z"/>
<path d="M641.9,288.4 L644.8,289.5 L643.6,292.1 L642.3,292.1Z"/>
<path d="M643.3,291.3 L645.4,291.1 L646.1,293.4 L645.3,295.7 L643.6,293.9Z"/>
<path d="M645.5,290.3 L647.0,291.3 L646.2,294.4 L645.5,292.4Z"/>
<path d="M646.7,293.1 L648.4,293.4 L648.0,294.4 L646.8,294.2Z"/>
<path d="M632.0,297.6 L634.9,294.4 L637.0,292.1 L636.4,290.8 L634.8,293.1 L632.1,296.8Z"/>
<path d="M638.0,284.3 L639.8,284.5 L640.8,286.6 L639.3,287.4 L638.2,286.1Z"/>
<path d="M634.0,254.0 L636.1,254.3 L636.0,256.9 L635.5,261.1 L635.1,262.4 L633.5,259.8 L632.8,257.4Z"/>
<path d="M608.9,269.4 L610.7,267.3 L613.1,267.1 L614.2,268.4 L613.3,271.0 L611.4,272.0 L609.5,271.2Z"/>
<path d="M646.2,232.7 L648.4,231.1 L650.5,231.9 L652.0,234.5 L652.1,237.6 L651.0,238.7 L649.6,237.9 L648.8,235.3 L647.1,234.2Z"/>
<path d="M652.3,232.7 L652.8,230.8 L655.1,230.1 L656.8,231.4 L656.2,232.7 L654.2,232.4 L653.5,234.0Z"/>
<path d="M648.4,231.1 L649.8,229.3 L651.1,226.9 L654.4,226.7 L657.0,226.7 L655.8,223.3 L657.3,222.3 L658.8,223.6 L660.7,221.7 L661.3,219.4 L660.7,216.3 L659.0,213.7 L658.9,211.9 L660.9,211.6 L663.0,214.7 L665.1,216.6 L665.8,219.7 L665.8,221.7 L666.8,224.1 L667.3,226.4 L666.9,228.2 L664.9,227.7 L664.8,229.3 L661.9,229.3 L660.8,230.1 L660.0,232.2 L657.8,231.1 L656.5,229.3 L654.3,229.8 L651.4,230.1 L648.6,231.1Z"/>
<path d="M657.8,211.4 L657.0,208.8 L655.6,208.3 L656.0,207.0 L657.7,206.7 L656.5,203.9 L654.9,201.1 L658.4,203.1 L661.2,204.4 L664.1,204.2 L666.7,206.5 L665.7,207.5 L664.1,208.8 L663.7,210.1 L659.5,208.5 L658.4,209.1 L659.3,210.9Z"/>
<path d="M654.3,199.8 L652.0,196.0 L649.7,193.4 L646.8,189.7 L644.1,185.9 L641.0,183.4 L638.6,178.9 L642.0,181.1 L646.3,185.9 L648.6,188.4 L650.8,190.9 L654.2,192.4 L651.1,192.2 L652.6,195.7 L655.9,197.8 L654.4,198.0Z"/>
<path d="M667.1,206.5 L668.1,205.2 L669.1,203.9 L669.5,201.6 L668.2,202.9 L666.9,204.7Z"/>
<path d="M655.1,140.0 L655.5,138.9 L657.6,140.2Z"/>
<path d="M70.8,138.8 L73.1,138.9 L73.8,139.6 L70.9,140.2 L68.6,140.1Z"/>
<path d="M574.4,131.0 L574.7,130.2 L574.9,129.4 L577.2,129.6 L579.4,129.8 L582.3,130.6 L581.3,131.2 L580.3,131.9 L578.8,131.9 L577.2,131.9Z"/>
<path d="M586.8,135.2 L588.2,134.7 L589.6,134.3 L590.6,135.6 L588.7,135.4Z"/>
<path d="M590.1,131.6 L591.9,131.3 L593.7,131.0 L596.3,131.4 L595.1,131.8 L593.9,132.1 L592.0,131.9Z"/>
<path d="M501.2,123.8 L504.0,124.3 L506.8,124.8 L509.3,125.0 L511.9,125.3 L513.6,125.1 L515.3,124.9 L517.0,124.8 L512.3,122.4 L509.8,122.4 L507.3,122.4 L504.3,121.5 L501.4,120.6 L499.2,120.9 L497.1,121.1 L496.6,121.8 L496.0,122.6 L498.6,123.2Z"/>
<path d="M446.7,138.9 L450.0,140.7 L452.5,140.7 L455.0,140.8 L457.5,140.9 L453.7,136.8 L454.9,134.7 L456.4,133.8 L457.9,132.9 L459.4,132.1 L461.0,131.0 L462.6,130.0 L464.4,128.9 L466.2,127.8 L463.7,127.6 L461.6,128.1 L459.4,128.6 L457.3,129.0 L455.5,129.4 L453.8,129.8 L452.0,130.2 L450.7,131.1 L449.3,132.1 L450.9,134.7 L448.8,135.2 L447.5,137.2Z"/>
<path d="M459.6,141.7 L461.4,142.1 L463.3,142.4 L461.0,141.3Z"/>
<path d="M444.0,143.9 L446.1,143.7 L445.6,144.8Z"/>
<path d="M426.8,121.0 L429.0,121.1 L431.2,121.3 L433.3,121.1 L435.3,121.0 L433.4,120.8 L431.4,120.5 L429.1,120.8Z"/>
<path d="M379.2,124.6 L380.4,123.5 L381.7,122.4 L384.2,122.3 L386.7,122.2 L388.2,122.6 L389.8,123.1 L392.1,123.6 L394.4,124.2 L392.6,125.4 L390.6,126.7 L388.8,128.4 L387.2,128.0 L385.6,127.6 L383.0,125.9 L381.1,125.2Z"/>
<path d="M394.0,125.3 L395.4,125.1 L396.8,124.9 L399.7,125.7 L398.2,126.3 L396.6,126.9Z"/>
<path d="M389.7,122.7 L392.3,123.0 L394.9,123.3 L397.1,122.8 L399.4,122.3 L401.6,121.8 L399.6,121.6 L397.6,121.3 L395.6,121.0 L393.2,121.1 L390.8,121.3Z"/>
<path d="M433.1,228.0 L434.6,227.3 L437.9,226.4 L436.6,228.0 L434.8,229.3 L433.2,228.8Z"/>
<path d="M351.7,189.5 L354.7,188.6 L356.1,188.1 L358.1,188.1 L361.1,187.6 L363.6,187.6 L365.8,186.6 L364.8,185.1 L366.4,182.9 L366.2,182.3 L363.6,182.1 L363.2,180.7 L362.1,178.7 L360.7,178.2 L360.0,175.7 L359.0,174.7 L357.3,174.7 L358.3,174.0 L359.3,172.3 L359.7,170.8 L356.9,170.6 L355.5,170.8 L357.1,168.4 L353.7,168.4 L353.1,170.1 L352.3,172.5 L352.4,174.2 L353.5,175.2 L354.3,175.7 L353.2,177.2 L354.2,177.7 L356.1,177.4 L356.7,178.4 L357.4,180.2 L357.2,181.1 L355.3,181.4 L353.9,182.6 L355.0,183.9 L353.0,184.9 L354.8,185.6 L357.1,185.9 L356.1,186.6 L354.1,187.1 L352.1,188.9Z"/>
<path d="M351.0,181.4 L351.4,179.7 L352.2,178.2 L351.5,176.7 L349.1,176.2 L347.1,176.7 L346.4,178.4 L343.7,179.2 L344.0,181.1 L344.9,182.6 L342.8,184.6 L344.1,185.6 L346.7,185.1 L350.5,184.1Z"/>
<path d="M324.1,155.9 L322.6,154.7 L321.0,153.6 L323.9,152.4 L321.0,152.0 L323.4,150.2 L325.9,150.5 L328.5,150.8 L330.2,150.7 L332.0,150.6 L334.2,150.3 L336.4,149.9 L337.9,151.3 L339.3,153.1 L336.6,155.0 L334.3,155.7 L332.0,156.4 L330.2,156.6 L328.4,156.8 L326.3,156.4Z"/>
<path d="M380.4,212.7 L382.4,212.2 L383.8,214.0 L383.5,217.3 L382.0,218.1 L381.0,217.8 L380.8,214.0Z"/>
<path d="M381.0,208.5 L382.5,207.8 L383.0,210.1 L382.4,211.6 L381.1,210.3Z"/>
<path d="M389.6,220.4 L391.5,219.9 L394.0,219.9 L396.4,219.8 L395.5,222.3 L395.6,223.8 L394.0,223.0 L389.9,221.5Z"/>
<path d="M414.0,227.5 L416.1,227.2 L420.1,227.5 L419.0,228.2 L416.2,228.2 L414.0,227.7Z"/>
<path d="M384.1,175.5 L385.7,174.5 L387.1,174.7 L386.8,176.5 L385.5,176.9 L384.5,176.5Z"/>
<path d="M381.8,176.0 L383.1,176.0 L383.6,176.9 L382.5,177.2Z"/>
<path d="M462.1,349.2 L462.6,350.5 L461.9,350.2Z"/>
</g>
<g stroke="#5a5a5a" stroke-width="0.5" stroke-linejoin="round">
<path d="M350.2,226.2 L350.5,226.2 L351.5,225.9 L351.6,226.7 L352.9,227.7 L354.6,227.6 L356.7,227.1 L356.8,227.7 L358.3,228.0 L359.1,229.5 L359.3,232.7 L360.4,234.5 L357.6,235.8 L354.9,237.1 L354.9,238.9 L350.9,242.6 L348.5,242.7 L346.2,242.8 L343.7,244.7 L343.8,247.3 L340.4,247.3 L337.1,247.3 L333.7,247.3 L334.4,246.6 L337.5,245.7 L338.4,245.2 L339.8,243.9 L340.5,242.9 L341.6,241.3 L341.9,240.2 L341.3,239.6 L341.5,238.4 L341.6,237.4 L342.8,235.3 L343.3,234.5 L344.5,232.8 L346.5,231.9 L348.1,230.8 L348.7,230.1 L349.7,227.7 L350.2,226.2Z" fill="#ffffcc"/>
<path d="M324.6,263.9 L325.0,262.1 L326.1,260.6 L327.1,258.5 L327.2,257.7 L328.5,256.1 L329.7,254.3 L330.7,251.4 L332.3,249.6 L333.7,247.3 L337.1,247.3 L340.4,247.3 L343.8,247.3 L343.7,248.3 L343.7,251.7 L340.0,251.7 L336.2,251.7 L336.2,255.0 L336.1,258.3 L333.6,260.2 L333.7,263.9 L330.7,263.9 L327.6,263.9 L324.6,263.9Z" fill="url(#hatch)" stroke="#bbb"/>
<path d="M358.3,228.0 L360.2,227.5 L361.8,226.3 L363.3,225.9 L365.9,224.3 L368.0,224.1 L369.5,223.6 L371.7,223.3 L374.0,223.7 L375.5,223.6 L376.8,222.8 L377.9,223.3 L379.8,223.3 L381.6,223.2 L381.2,225.6 L381.1,228.2 L380.2,229.5 L379.4,232.2 L381.7,234.8 L383.0,235.8 L384.1,240.7 L385.0,243.9 L385.0,247.1 L384.9,250.4 L385.5,253.0 L386.1,255.6 L390.0,258.2 L385.6,261.7 L381.1,265.3 L378.6,267.0 L376.2,268.8 L372.7,269.6 L370.5,269.7 L370.3,267.9 L367.1,265.8 L365.7,264.5 L362.3,261.9 L358.9,259.4 L355.6,256.8 L352.2,254.3 L348.0,251.3 L343.7,248.3 L343.8,247.3 L343.7,244.7 L346.2,242.8 L348.5,242.7 L350.9,242.6 L354.9,238.9 L354.9,237.1 L357.6,235.8 L360.4,234.5 L359.3,232.7 L359.1,229.5 L358.3,228.0Z" fill="#ffffcc"/>
<path d="M381.6,223.2 L381.9,223.2 L383.9,222.3 L384.3,222.3 L385.1,222.7 L385.2,223.4 L385.9,223.3 L386.8,222.8 L386.6,223.8 L385.8,224.6 L386.1,226.2 L386.5,226.3 L387.1,226.9 L387.0,228.0 L386.4,229.0 L385.5,230.1 L385.1,231.1 L386.0,231.9 L386.8,231.5 L387.3,232.2 L388.2,232.9 L387.6,234.5 L385.5,236.6 L385.1,239.2 L384.1,240.7 L383.0,235.8 L381.7,234.8 L379.4,232.2 L380.2,229.5 L381.1,228.2 L381.2,225.6 L381.6,223.2Z" fill="#ffffcc"/>
<path d="M388.2,232.9 L390.0,233.8 L391.9,233.7 L394.4,234.4 L396.4,235.0 L396.9,236.6 L397.6,237.6 L399.6,238.1 L401.6,238.7 L403.4,239.5 L405.0,240.5 L406.3,240.2 L407.1,239.2 L407.0,237.4 L407.0,235.8 L408.0,234.8 L408.9,234.2 L410.5,233.7 L412.5,234.1 L413.7,234.5 L415.6,235.8 L417.8,236.6 L418.3,237.1 L417.9,238.7 L417.6,241.0 L418.4,242.6 L418.7,247.5 L419.0,252.4 L419.2,257.2 L419.4,262.1 L419.5,264.7 L419.6,267.3 L417.3,267.3 L417.4,268.6 L413.3,266.7 L409.3,264.8 L405.3,262.9 L401.2,260.9 L397.2,259.0 L395.0,260.6 L393.4,259.3 L390.0,258.2 L386.1,255.6 L385.5,253.0 L384.9,250.4 L385.0,247.1 L385.0,243.9 L384.1,240.7 L385.1,239.2 L385.5,236.6 L387.6,234.5 L388.2,232.9Z" fill="#ffffcc"/>
<path d="M418.3,237.1 L419.1,237.2 L422.9,237.8 L424.7,238.4 L427.0,239.1 L428.9,238.1 L429.9,237.5 L431.2,237.1 L433.0,237.4 L434.1,238.0 L435.7,238.4 L437.5,238.3 L438.3,237.8 L439.2,239.7 L440.3,242.6 L439.9,244.0 L439.6,245.7 L439.3,246.7 L439.3,247.2 L438.1,246.4 L437.7,245.8 L436.7,244.4 L435.4,242.3 L435.0,241.4 L434.7,242.1 L435.3,243.4 L435.4,243.6 L436.0,244.9 L436.6,245.6 L437.6,247.3 L438.5,248.6 L438.8,249.7 L439.7,251.4 L440.4,252.7 L441.2,254.0 L442.0,255.6 L442.7,257.0 L443.4,257.2 L443.1,258.7 L444.5,260.3 L446.2,262.1 L442.4,262.1 L438.5,262.1 L436.1,262.1 L433.6,262.1 L430.0,262.1 L426.5,262.1 L422.9,262.1 L419.4,262.1 L419.2,257.2 L419.0,252.4 L418.7,247.5 L418.4,242.6 L417.6,241.0 L417.9,238.7 L418.3,237.1Z" fill="#ffffcc"/>
<path d="M446.2,262.1 L447.2,264.7 L447.1,266.8 L447.2,268.4 L447.6,269.7 L448.5,270.7 L450.6,272.5 L447.1,275.2 L446.2,279.1 L446.2,281.9 L445.6,286.4 L444.4,286.6 L443.1,288.7 L441.6,291.8 L441.2,294.7 L439.1,291.3 L437.8,287.7 L436.2,287.7 L434.9,290.9 L433.6,294.2 L430.9,294.2 L426.8,294.4 L423.8,294.7 L420.8,292.6 L418.1,296.8 L417.5,294.2 L416.9,291.6 L415.4,291.0 L414.3,286.6 L413.1,286.6 L413.7,284.3 L413.2,281.7 L415.4,278.5 L417.7,278.5 L417.5,273.6 L417.4,268.6 L417.3,267.3 L419.6,267.3 L419.5,264.7 L419.4,262.1 L422.9,262.1 L426.5,262.1 L430.0,262.1 L433.6,262.1 L436.1,262.1 L438.5,262.1 L442.4,262.1 L446.2,262.1Z" fill="#ffffcc"/>
<path d="M450.6,272.5 L451.7,275.2 L452.5,277.8 L452.9,278.8 L453.7,279.3 L454.7,280.6 L457.1,283.2 L459.0,284.5 L460.6,285.6 L461.6,286.4 L459.9,287.0 L457.4,284.5 L454.3,281.7 L452.0,281.3 L450.6,281.7 L448.6,282.2 L446.2,281.9 L446.2,279.1 L447.1,275.2 L450.6,272.5Z" fill="#fed976"/>
<path d="M461.6,286.4 L462.2,287.1 L462.3,288.2 L461.2,288.7 L460.3,289.4 L461.8,289.2 L462.0,289.6 L461.3,290.8 L459.9,290.8 L458.7,289.0 L459.9,287.0 L461.6,286.4Z" fill="#fed976"/>
<path d="M462.0,289.6 L462.5,289.9 L464.5,292.1 L466.1,292.2 L468.4,291.4 L471.8,290.5 L474.1,290.3 L475.7,290.0 L478.4,289.0 L480.3,288.6 L480.2,290.8 L480.8,292.4 L479.9,292.9 L479.5,295.2 L477.8,297.8 L477.3,298.7 L475.6,302.5 L474.5,305.5 L472.7,308.3 L470.0,311.9 L467.4,314.1 L466.0,315.0 L463.2,317.6 L461.0,320.4 L459.5,322.1 L458.7,323.8 L457.4,321.8 L457.4,317.0 L457.4,312.2 L459.4,309.2 L461.7,308.5 L464.2,306.6 L466.5,306.4 L469.8,302.5 L473.0,298.6 L468.5,297.3 L464.0,296.0 L461.3,290.8 L462.0,289.6Z" fill="#fed976"/>
<path d="M446.2,281.9 L448.6,282.2 L450.6,281.7 L452.0,281.3 L454.3,281.7 L457.4,284.5 L459.9,287.0 L458.7,289.0 L459.9,290.8 L461.3,290.8 L464.0,296.0 L468.5,297.3 L473.0,298.6 L469.8,302.5 L466.5,306.4 L464.2,306.6 L461.7,308.5 L459.4,309.2 L456.9,308.5 L453.9,310.3 L450.7,310.1 L448.3,309.0 L445.8,307.9 L444.9,307.5 L443.5,304.3 L440.6,299.9 L438.8,298.9 L441.3,297.0 L441.2,294.7 L441.6,291.8 L443.1,288.7 L444.4,286.6 L445.6,286.4 L446.2,281.9Z" fill="#fd8d3c"/>
<path d="M458.7,323.8 L457.2,325.4 L455.5,326.8 L455.3,327.8 L454.2,330.0 L453.2,331.6 L449.5,328.3 L449.8,327.3 L445.4,324.7 L441.1,322.1 L441.3,318.2 L443.6,315.6 L442.4,312.0 L441.2,308.5 L442.1,307.5 L444.9,307.5 L445.8,307.9 L448.3,309.0 L450.7,310.1 L453.9,310.3 L456.9,308.5 L459.4,309.2 L457.4,312.2 L457.4,317.0 L457.4,321.8 L458.7,323.8Z" fill="#ffeda0"/>
<path d="M453.2,331.6 L452.9,332.7 L452.2,335.1 L453.3,337.2 L453.7,339.0 L453.2,341.1 L453.6,342.7 L454.0,345.5 L455.7,346.8 L451.2,348.9 L448.9,349.7 L445.4,349.4 L442.2,349.4 L441.6,346.8 L441.0,344.2 L438.7,344.0 L435.3,341.9 L433.5,340.8 L433.1,339.8 L431.3,335.1 L430.7,331.1 L432.5,330.4 L433.9,328.1 L433.9,325.7 L434.2,324.7 L433.3,322.2 L433.9,322.1 L437.5,322.1 L441.1,322.1 L445.4,324.7 L449.8,327.3 L449.5,328.3 L453.2,331.6Z" fill="#fed976"/>
<path d="M455.7,346.8 L455.7,349.4 L455.6,353.3 L455.7,355.9 L455.9,357.2 L455.9,358.6 L454.6,360.9 L453.8,361.7 L450.5,364.5 L446.8,366.1 L444.6,368.2 L441.9,371.2 L442.3,373.9 L442.8,376.3 L442.9,379.1 L442.5,381.7 L441.5,383.8 L438.3,384.7 L435.9,387.1 L436.3,388.0 L436.4,389.4 L434.6,389.3 L434.5,387.0 L434.6,383.1 L433.5,377.9 L436.1,375.0 L437.7,370.8 L437.5,366.4 L438.1,363.2 L435.6,361.9 L432.3,360.2 L433.7,359.3 L436.2,357.6 L438.8,355.9 L441.5,357.0 L441.2,359.9 L441.6,361.2 L442.8,363.2 L443.3,364.0 L444.5,361.4 L444.9,358.3 L443.6,355.7 L442.4,352.0 L442.2,349.4 L445.4,349.4 L448.9,349.7 L451.2,348.9 L455.7,346.8Z" fill="#feb24c"/>
<path d="M436.4,389.4 L435.6,391.9 L434.1,394.5 L431.7,397.3 L430.2,399.5 L427.9,401.8 L425.8,403.6 L424.1,405.5 L421.1,407.3 L418.8,408.0 L417.0,408.6 L414.0,408.3 L411.3,408.5 L408.7,409.1 L406.5,410.2 L404.8,409.2 L404.0,408.3 L403.2,409.0 L403.2,407.9 L402.6,406.2 L402.3,405.5 L402.9,403.9 L403.2,403.1 L402.4,401.0 L401.2,398.4 L400.5,395.8 L399.6,394.1 L401.7,394.3 L405.2,394.8 L407.5,393.5 L407.7,388.7 L407.9,384.0 L409.5,388.3 L413.3,387.2 L414.5,385.4 L416.7,385.9 L419.0,386.4 L422.4,383.8 L423.7,381.0 L426.1,378.4 L429.2,377.3 L433.5,377.9 L434.6,383.1 L434.5,387.0 L433.3,386.4 L432.4,386.7 L431.7,389.3 L432.5,390.6 L433.9,390.6 L434.6,389.3 L436.4,389.4Z" fill="#ffffcc"/>
<path d="M399.6,394.1 L398.0,391.1 L396.9,388.9 L396.4,385.9 L395.6,382.0 L395.7,379.3 L395.5,377.6 L394.5,376.2 L393.1,372.9 L391.6,369.5 L390.3,366.9 L389.7,364.4 L393.5,363.8 L397.4,364.1 L401.2,364.5 L405.1,364.8 L407.7,365.6 L410.2,366.4 L413.2,365.8 L416.2,365.3 L420.4,365.8 L418.0,365.1 L415.9,366.4 L413.3,366.8 L410.7,367.2 L410.5,372.0 L410.4,376.8 L408.1,376.8 L408.0,380.4 L407.9,384.0 L407.7,388.7 L407.5,393.5 L405.2,394.8 L401.7,394.3 L399.6,394.1Z" fill="#ffeda0"/>
<path d="M420.4,365.8 L418.0,365.1 L415.9,366.4 L413.3,366.8 L410.7,367.2 L410.5,372.0 L410.4,376.8 L408.1,376.8 L408.0,380.4 L407.9,384.0 L409.5,388.3 L413.3,387.2 L414.5,385.4 L416.7,385.9 L419.0,386.4 L422.4,383.8 L423.7,381.0 L426.1,378.4 L429.2,377.3 L426.2,375.5 L425.6,372.9 L422.3,370.5 L420.4,365.8Z" fill="#ffffcc"/>
<path d="M429.2,377.3 L426.2,375.5 L425.6,372.9 L422.3,370.5 L420.4,365.8 L424.4,363.8 L428.6,362.2 L432.3,360.2 L435.6,361.9 L438.1,363.2 L437.5,366.4 L437.7,370.8 L436.1,375.0 L433.5,377.9 L429.2,377.3Z" fill="#fed976"/>
<path d="M433.5,340.8 L435.3,341.9 L438.7,344.0 L439.3,346.8 L439.3,349.4 L437.8,353.3 L438.8,355.9 L436.2,357.6 L433.7,359.3 L432.3,360.2 L428.6,362.2 L424.4,363.8 L420.4,365.8 L416.2,365.3 L413.1,361.7 L413.2,357.5 L413.3,353.3 L415.6,353.3 L417.9,353.3 L417.9,350.7 L418.0,348.1 L418.9,348.6 L421.0,348.6 L425.3,349.7 L429.3,354.4 L431.1,354.4 L431.2,351.3 L429.4,351.8 L428.0,350.2 L428.8,347.3 L428.4,343.4 L429.4,341.6 L433.5,340.8Z" fill="#fed976"/>
<path d="M438.7,344.0 L441.0,344.2 L441.6,346.8 L442.2,349.4 L442.4,352.0 L443.6,355.7 L444.9,358.3 L444.5,361.4 L443.3,364.0 L442.8,363.2 L441.6,361.2 L441.2,359.9 L441.5,357.0 L438.8,355.9 L437.8,353.3 L439.3,349.4 L439.3,346.8 L438.7,344.0Z" fill="#fed976"/>
<path d="M389.7,364.4 L389.9,361.9 L390.7,359.1 L391.3,355.9 L392.3,353.9 L393.7,352.3 L394.0,351.6 L394.6,348.1 L393.5,345.5 L393.4,342.4 L392.7,339.5 L391.5,336.4 L391.3,335.4 L392.9,334.8 L396.6,334.8 L400.3,334.8 L401.2,338.5 L403.4,340.6 L407.6,340.3 L407.6,338.2 L410.4,338.4 L413.1,338.5 L413.1,341.4 L413.0,344.2 L414.1,348.1 L417.8,347.9 L418.0,348.1 L417.9,350.7 L417.9,353.3 L415.6,353.3 L413.3,353.3 L413.2,357.5 L413.1,361.7 L416.2,365.3 L413.2,365.8 L410.2,366.4 L407.7,365.6 L405.1,364.8 L401.2,364.5 L397.4,364.1 L393.5,363.8 L389.7,364.4Z" fill="#ffeda0"/>
<path d="M391.1,334.6 L390.6,333.3 L390.2,332.5 L391.1,330.9 L393.2,331.4 L391.8,334.3 L391.1,334.6Z" fill="#ffeda0"/>
<path d="M391.3,335.4 L391.1,334.6 L391.8,334.3 L393.2,331.4 L395.2,330.9 L398.2,330.7 L399.3,327.7 L400.3,324.7 L402.2,322.1 L404.0,319.5 L404.3,316.9 L404.7,314.2 L405.8,310.3 L406.8,310.3 L409.0,309.3 L411.3,308.3 L413.6,307.9 L415.9,307.5 L418.6,306.7 L421.2,305.9 L423.6,306.1 L426.0,306.3 L427.4,307.7 L429.7,308.0 L432.0,308.3 L434.0,310.3 L433.2,313.2 L435.1,314.0 L432.1,316.9 L431.9,319.5 L431.2,323.1 L430.3,323.9 L429.8,326.5 L430.2,328.1 L430.7,331.1 L431.3,335.1 L433.1,339.8 L433.5,340.8 L429.4,341.6 L428.4,343.4 L428.8,347.3 L428.0,350.2 L429.4,351.8 L431.2,351.3 L431.1,354.4 L429.3,354.4 L425.3,349.7 L421.0,348.6 L418.9,348.6 L418.0,348.1 L417.8,347.9 L414.1,348.1 L413.0,344.2 L413.1,341.4 L413.1,338.5 L410.4,338.4 L407.6,338.2 L407.6,340.3 L403.4,340.6 L401.2,338.5 L400.3,334.8 L396.6,334.8 L392.9,334.8 L391.3,335.4Z" fill="#ffeda0"/>
<path d="M390.2,332.5 L390.3,331.9 L389.3,330.9 L388.6,329.8 L390.4,328.8 L391.8,326.0 L395.0,326.0 L396.2,324.4 L396.4,320.8 L395.3,318.2 L393.7,316.1 L393.7,313.7 L396.4,314.0 L399.6,315.0 L400.3,313.7 L401.0,310.3 L403.4,310.3 L405.8,310.3 L404.7,314.2 L404.3,316.9 L404.0,319.5 L402.2,322.1 L400.3,324.7 L399.3,327.7 L398.2,330.7 L395.2,330.9 L393.2,331.4 L391.1,330.9 L390.2,332.5Z" fill="#ffeda0"/>
<path d="M388.6,329.8 L387.5,328.4 L386.1,326.8 L384.5,324.4 L383.5,322.8 L383.1,321.2 L384.0,320.2 L384.5,318.9 L384.8,318.4 L385.0,317.4 L384.5,316.9 L386.8,316.9 L389.2,316.9 L389.1,313.7 L391.4,313.7 L393.7,313.7 L393.7,316.1 L395.3,318.2 L396.4,320.8 L396.2,324.4 L395.0,326.0 L391.8,326.0 L390.4,328.8 L388.6,329.8Z" fill="#ffffcc"/>
<path d="M384.5,316.9 L385.5,314.6 L385.6,313.3 L389.1,313.7 L389.2,316.9 L386.8,316.9 L384.5,316.9Z" fill="#ffffcc"/>
<path d="M385.6,313.3 L385.8,311.8 L385.4,310.1 L385.1,309.0 L383.7,309.0 L383.5,307.7 L382.6,307.5 L383.7,303.8 L387.4,301.5 L390.1,301.2 L392.4,296.8 L394.2,292.9 L396.2,289.5 L395.3,285.3 L397.4,288.2 L397.4,290.8 L399.0,293.4 L396.3,294.4 L397.5,297.2 L398.6,299.9 L397.5,302.5 L396.4,305.1 L396.9,309.0 L398.7,311.6 L400.3,313.7 L399.6,315.0 L396.4,314.0 L393.7,313.7 L391.4,313.7 L389.1,313.7 L385.6,313.3Z" fill="#feb24c"/>
<path d="M398.6,299.9 L397.5,302.5 L396.4,305.1 L396.9,309.0 L398.7,311.6 L400.3,313.7 L401.0,310.3 L403.4,310.3 L405.8,310.3 L406.8,310.3 L409.0,309.3 L411.3,308.3 L413.6,307.9 L415.9,307.5 L418.6,306.7 L421.2,305.9 L423.6,306.1 L426.0,306.3 L423.9,302.8 L420.7,299.1 L418.1,296.8 L417.5,294.2 L416.9,291.6 L415.4,291.0 L413.4,291.3 L411.2,294.7 L408.9,295.4 L406.6,296.0 L403.2,298.6 L400.9,299.3 L398.6,299.9Z" fill="#feb24c"/>
<path d="M394.1,283.8 L396.2,280.4 L398.3,277.0 L398.3,272.2 L398.3,267.3 L397.8,263.2 L397.2,259.0 L401.2,260.9 L405.3,262.9 L409.3,264.8 L413.3,266.7 L417.4,268.6 L417.5,273.6 L417.7,278.5 L415.4,278.5 L413.2,281.7 L413.7,284.3 L413.1,286.6 L414.3,286.6 L415.4,291.0 L413.4,291.3 L411.2,294.7 L408.9,295.4 L406.6,296.0 L403.2,298.6 L400.9,299.3 L398.6,299.9 L397.5,297.2 L396.3,294.4 L399.0,293.4 L397.4,290.8 L397.4,288.2 L395.3,285.3 L394.1,283.8Z" fill="#fd8d3c"/>
<path d="M418.1,296.8 L420.8,292.6 L423.8,294.7 L426.8,294.4 L430.9,294.2 L433.6,294.2 L434.9,290.9 L436.2,287.7 L437.8,287.7 L439.1,291.3 L441.2,294.7 L441.3,297.0 L438.8,298.9 L440.6,299.9 L443.5,304.3 L444.9,307.5 L442.1,307.5 L441.2,308.5 L440.1,309.7 L436.7,310.2 L434.4,309.8 L434.0,310.3 L432.0,308.3 L429.7,308.0 L427.4,307.7 L426.0,306.3 L423.9,302.8 L420.7,299.1 L418.1,296.8Z" fill="#feb24c"/>
<path d="M441.2,308.5 L440.1,309.7 L436.7,310.2 L434.4,309.8 L434.0,310.3 L433.2,313.2 L435.1,314.0 L432.1,316.9 L431.9,319.5 L431.2,323.1 L433.3,322.2 L433.9,322.1 L437.5,322.1 L441.1,322.1 L441.3,318.2 L443.6,315.6 L442.4,312.0 L441.2,308.5Z" fill="#fed976"/>
<path d="M433.3,322.2 L431.2,323.1 L430.3,323.9 L429.8,326.5 L431.8,326.6 L433.2,325.7 L433.9,325.7 L434.2,324.7 L433.3,322.2Z" fill="#ffeda0"/>
<path d="M429.8,326.5 L431.8,326.6 L433.2,325.7 L433.9,325.7 L433.9,328.1 L432.5,330.4 L430.7,331.1 L430.2,328.1 L429.8,326.5Z" fill="#feb24c"/>
<path d="M382.6,307.5 L382.1,307.0 L380.3,308.0 L379.1,308.0 L377.1,308.3 L375.7,306.7 L374.5,304.9 L373.6,303.3 L370.9,302.7 L369.3,302.9 L369.2,299.4 L369.2,296.0 L371.3,292.6 L371.3,289.0 L372.4,284.3 L375.8,283.5 L379.0,285.6 L382.5,285.3 L385.9,284.8 L388.2,284.8 L390.5,284.8 L394.1,283.8 L395.3,285.3 L396.2,289.5 L394.2,292.9 L392.4,296.8 L390.1,301.2 L387.4,301.5 L383.7,303.8 L382.6,307.5Z" fill="#fd8d3c"/>
<path d="M372.7,269.6 L376.2,268.8 L378.6,267.0 L381.1,265.3 L385.6,261.7 L390.0,258.2 L393.4,259.3 L395.0,260.6 L397.2,259.0 L397.8,263.2 L398.3,267.3 L398.3,272.2 L398.3,277.0 L396.2,280.4 L394.1,283.8 L390.5,284.8 L388.2,284.8 L385.9,284.8 L382.5,285.3 L379.0,285.6 L375.8,283.5 L372.4,284.3 L371.3,289.0 L368.5,288.4 L367.8,286.4 L365.1,285.6 L366.0,284.5 L363.6,280.4 L366.0,279.6 L368.5,279.5 L371.0,279.3 L372.7,275.4 L372.7,272.5 L372.7,269.6Z" fill="#feb24c"/>
<path d="M352.2,254.3 L355.6,256.8 L358.9,259.4 L362.3,261.9 L365.7,264.5 L367.1,265.8 L370.3,267.9 L370.5,269.7 L372.7,269.6 L372.7,272.5 L372.7,275.4 L371.0,279.3 L368.5,279.5 L366.0,279.6 L363.6,280.4 L361.5,280.1 L358.5,282.5 L355.1,284.5 L353.2,286.4 L353.0,288.2 L351.1,289.7 L350.5,292.4 L348.8,292.9 L347.0,292.9 L344.7,292.6 L344.0,290.8 L342.9,288.4 L340.9,288.2 L338.8,288.4 L337.0,287.1 L337.0,284.8 L335.6,282.5 L335.1,281.0 L336.6,279.1 L338.7,279.3 L341.6,279.3 L346.1,279.2 L350.5,279.1 L350.8,276.7 L350.3,272.7 L349.9,268.7 L349.5,264.7 L350.4,261.3 L351.3,257.8 L352.2,254.3Z" fill="#feb24c"/>
<path d="M325.5,277.5 L326.0,275.2 L326.6,272.5 L326.8,272.3 L326.4,269.9 L325.7,269.0 L326.2,267.6 L325.3,266.6 L324.5,265.3 L324.6,263.9 L327.6,263.9 L330.7,263.9 L333.7,263.9 L333.6,260.2 L336.1,258.3 L336.2,255.0 L336.2,251.7 L340.0,251.7 L343.7,251.7 L343.7,248.3 L348.0,251.3 L352.2,254.3 L351.3,257.8 L350.4,261.3 L349.5,264.7 L349.9,268.7 L350.3,272.7 L350.8,276.7 L350.5,279.1 L346.1,279.2 L341.6,279.3 L338.7,279.3 L336.6,279.1 L335.1,281.0 L334.6,279.3 L332.6,277.5 L330.5,276.2 L327.8,276.5 L325.5,277.5Z" fill="#fed976"/>
<path d="M324.9,287.3 L324.8,285.4 L325.1,284.4 L325.3,284.0 L324.7,283.0 L324.0,281.8 L323.1,281.1 L323.8,280.8 L324.5,279.6 L325.5,277.6 L325.5,277.5 L327.8,276.5 L330.5,276.2 L332.6,277.5 L334.6,279.3 L335.1,281.0 L335.6,282.5 L337.0,284.8 L337.0,287.1 L334.5,287.1 L331.7,286.4 L327.6,286.9 L324.9,287.3Z" fill="#fed976"/>
<path d="M328.7,291.1 L327.6,290.0 L327.4,288.6 L326.0,288.4 L325.3,287.7 L324.9,287.3 L327.6,286.9 L331.7,286.4 L331.7,288.7 L329.9,289.5 L328.7,291.1Z" fill="#fc4e2a"/>
<path d="M332.5,295.9 L331.6,294.7 L331.0,293.7 L329.6,292.1 L328.7,291.1 L329.9,289.5 L331.7,288.7 L331.7,286.4 L334.5,287.1 L337.0,287.1 L338.8,288.4 L340.9,288.2 L342.9,288.4 L344.0,290.8 L344.7,292.6 L344.7,295.0 L345.4,297.6 L344.2,298.1 L343.6,299.8 L341.5,299.9 L341.3,297.6 L339.5,297.3 L338.5,295.2 L337.4,293.4 L335.5,293.7 L333.9,295.0 L332.5,295.9Z" fill="#feb24c"/>
<path d="M336.6,301.4 L334.6,300.4 L333.3,298.9 L332.7,297.4 L333.0,296.3 L332.5,295.9 L333.9,295.0 L335.5,293.7 L337.4,293.4 L338.5,295.2 L339.5,297.3 L338.3,299.7 L336.6,301.4Z" fill="#fc4e2a"/>
<path d="M345.7,308.1 L345.3,308.1 L343.5,307.5 L342.2,306.4 L341.0,305.4 L340.0,304.1 L338.2,303.0 L336.6,301.4 L338.3,299.7 L339.5,297.3 L341.3,297.6 L341.5,299.9 L343.6,299.8 L344.0,302.3 L345.8,304.1 L345.7,308.1Z" fill="#fc4e2a"/>
<path d="M355.9,306.2 L353.9,305.8 L351.6,306.0 L349.3,306.6 L347.8,307.1 L345.7,308.1 L345.8,304.1 L344.0,302.3 L343.6,299.8 L344.2,298.1 L345.4,297.6 L344.7,295.0 L344.7,292.6 L347.0,292.9 L348.8,292.9 L350.5,292.4 L352.3,294.2 L354.6,293.7 L356.9,294.7 L357.3,298.1 L355.7,301.7 L355.9,306.2Z" fill="#fd8d3c"/>
<path d="M363.6,280.4 L361.5,280.1 L358.5,282.5 L355.1,284.5 L353.2,286.4 L353.0,288.2 L351.1,289.7 L350.5,292.4 L352.3,294.2 L354.6,293.7 L356.9,294.7 L356.6,291.1 L360.8,290.8 L363.1,290.8 L365.1,290.8 L366.3,289.7 L368.5,288.4 L367.8,286.4 L365.1,285.6 L366.0,284.5 L363.6,280.4Z" fill="#ffeda0"/>
<path d="M365.8,303.5 L364.4,304.3 L363.1,304.7 L362.6,305.0 L360.8,305.9 L360.2,306.2 L359.0,306.7 L358.2,307.1 L356.4,306.4 L355.9,306.2 L355.7,301.7 L357.3,298.1 L356.9,294.7 L356.6,291.1 L360.8,290.8 L363.1,290.8 L364.0,292.9 L364.4,297.3 L364.4,301.5 L365.8,303.5Z" fill="#feb24c"/>
<path d="M366.8,303.2 L365.8,303.5 L364.4,301.5 L364.4,297.3 L364.0,292.9 L363.1,290.8 L365.1,290.8 L364.9,293.4 L366.7,296.0 L366.7,298.7 L366.7,301.5 L366.8,303.2Z" fill="#feb24c"/>
<path d="M369.3,302.9 L368.6,302.9 L366.8,303.2 L366.7,301.5 L366.7,298.7 L366.7,296.0 L364.9,293.4 L365.1,290.8 L366.3,289.7 L368.5,288.4 L371.3,289.0 L371.3,292.6 L369.2,296.0 L369.2,299.4 L369.3,302.9Z" fill="#feb24c"/>
<path d="M516.2,257.7 L514.2,255.6 L513.2,254.7 L512.1,253.3 L508.6,253.5 L505.2,253.8 L501.0,253.8 L501.1,251.2 L504.1,250.1 L504.1,248.6 L502.9,248.3 L502.6,245.7 L499.7,244.4 L497.9,242.8 L501.4,242.8 L504.7,242.6 L507.2,242.1 L509.6,241.5 L509.6,238.9 L511.4,237.9 L514.2,236.8 L515.2,236.3 L515.0,233.2 L516.1,231.1 L515.4,230.8 L517.7,229.8 L518.2,228.2 L517.8,225.6 L517.0,224.9 L519.2,223.6 L521.3,223.3 L523.4,223.0 L524.1,222.5 L525.9,223.6 L527.0,224.6 L529.6,226.2 L531.6,226.9 L529.1,228.2 L526.1,229.3 L524.3,230.8 L526.3,234.0 L528.2,235.5 L527.3,238.4 L527.7,241.3 L525.3,241.5 L524.5,244.1 L520.9,246.5 L518.8,247.3 L518.1,249.9 L519.9,251.7 L520.8,253.0 L522.5,255.6 L520.1,256.4 L517.3,257.4 L516.2,257.7Z" fill="#fc4e2a"/>
<path d="M497.9,242.8 L501.4,242.8 L504.7,242.6 L507.2,242.1 L509.6,241.5 L509.6,238.9 L511.4,237.9 L514.2,236.8 L515.2,236.3 L515.0,233.2 L516.1,231.1 L515.4,230.8 L517.7,229.8 L518.2,228.2 L517.8,225.6 L517.0,224.9 L519.2,223.6 L521.3,223.3 L523.4,223.0 L524.1,222.5 L521.4,222.0 L519.3,223.0 L516.5,223.0 L516.3,220.7 L513.7,220.4 L513.3,221.5 L511.1,222.3 L508.8,222.5 L505.9,222.0 L502.8,222.5 L502.3,224.9 L499.5,225.9 L498.1,227.5 L495.5,226.7 L494.8,230.3 L495.8,232.2 L496.4,234.8 L497.0,237.4 L498.4,237.9 L497.9,242.8Z" fill="#fed976"/>
<path d="M478.9,222.3 L478.0,218.1 L476.7,217.1 L475.5,215.3 L475.7,211.4 L474.7,212.7 L474.0,210.6 L476.2,209.3 L480.0,211.9 L481.1,211.9 L483.2,211.9 L483.4,209.6 L485.4,208.3 L487.7,209.3 L489.0,210.1 L491.7,212.2 L494.5,215.0 L498.2,216.8 L502.1,219.7 L505.9,222.0 L502.8,222.5 L502.3,224.9 L499.5,225.9 L498.1,227.5 L495.5,226.7 L493.3,224.1 L490.4,221.7 L488.0,220.8 L485.7,219.9 L483.0,220.2 L480.8,222.0 L478.9,222.3Z" fill="#ffeda0"/>
<path d="M481.1,211.9 L483.2,211.9 L483.4,209.6 L485.4,208.3 L487.7,209.3 L489.0,210.1 L491.7,212.2 L494.5,215.0 L498.2,216.8 L502.1,219.7 L505.9,222.0 L508.8,222.5 L509.4,219.9 L508.5,218.1 L506.8,216.6 L509.0,216.6 L509.9,214.5 L512.1,212.9 L512.8,215.0 L515.3,215.0 L517.9,214.5 L517.2,212.9 L515.4,212.4 L513.7,211.9 L512.3,211.4 L511.9,209.3 L510.6,210.1 L508.4,211.6 L508.1,213.4 L504.3,212.2 L501.6,210.1 L501.1,207.8 L498.0,205.7 L495.0,206.0 L492.1,206.2 L489.4,203.9 L486.5,202.5 L483.6,201.1 L481.1,201.7 L478.6,202.4 L479.9,207.1 L481.1,211.9Z" fill="#ffeda0"/>
<path d="M512.8,215.0 L512.1,212.9 L509.9,214.5 L509.0,216.6 L506.8,216.6 L508.5,218.1 L509.4,219.9 L508.8,222.5 L511.1,222.3 L513.3,221.5 L513.7,220.4 L516.3,220.7 L516.5,223.0 L519.3,223.0 L521.4,222.0 L524.1,222.5 L523.2,219.4 L520.9,218.9 L519.6,216.7 L517.3,216.5 L515.1,216.3 L511.9,216.3 L512.8,215.0 L510.8,218.8 L508.8,222.5 L505.9,222.0 L508.2,219.7 L510.5,217.3Z" fill="#ffeda0"/>
<path d="M511.9,209.3 L512.3,211.4 L513.7,211.9 L515.4,212.4 L517.2,212.9 L517.9,214.5 L515.3,215.0 L512.8,215.0 L511.9,216.3 L515.1,216.3 L517.3,216.5 L519.6,216.7 L520.0,216.6 L521.8,214.0 L525.0,214.2 L527.7,212.7 L529.5,211.3 L531.4,210.0 L528.2,208.0 L524.9,207.8 L521.7,207.5 L518.6,207.5 L516.9,208.8 L514.4,209.1 L511.9,209.3Z" fill="#ffffcc"/>
<path d="M563.6,262.4 L561.5,263.2 L559.3,263.7 L559.3,265.3 L558.2,267.3 L555.5,269.2 L553.6,272.0 L550.2,276.2 L547.9,278.0 L545.8,280.1 L546.4,284.5 L545.8,288.2 L545.9,292.6 L544.2,295.2 L542.4,296.3 L540.9,298.4 L538.7,296.0 L537.7,293.4 L536.5,290.0 L534.5,286.1 L533.2,281.7 L531.1,278.5 L529.3,274.4 L527.9,269.9 L527.5,266.0 L526.8,263.4 L526.0,264.2 L523.0,265.5 L518.4,261.3 L521.0,259.8 L517.6,258.2 L516.2,257.7 L517.3,257.4 L520.1,256.4 L522.5,255.6 L520.8,253.0 L519.9,251.7 L518.1,249.9 L518.8,247.3 L520.9,246.5 L524.5,244.1 L525.3,241.5 L527.7,241.3 L527.3,238.4 L528.2,235.5 L526.3,234.0 L524.3,230.8 L526.1,229.3 L529.1,228.2 L531.6,226.9 L532.7,229.5 L535.3,232.2 L535.1,234.8 L536.8,237.6 L539.9,239.5 L542.0,240.8 L540.6,244.4 L543.2,246.7 L545.6,247.5 L547.9,248.3 L550.1,248.1 L553.8,249.9 L557.3,250.7 L559.8,249.9 L559.0,246.7 L560.4,246.2 L561.1,248.3 L561.5,249.4 L564.9,249.6 L568.3,249.6 L567.9,247.0 L571.6,244.4 L574.6,243.1 L577.0,244.1 L579.3,246.0 L577.0,248.6 L575.5,250.1 L574.9,253.8 L574.3,257.2 L573.1,259.5 L573.0,261.6 L571.7,262.2 L570.9,258.2 L569.4,257.2 L568.2,259.5 L568.5,255.6 L570.1,254.6 L567.9,253.8 L564.1,253.5 L564.0,251.7 L560.6,250.7 L560.1,252.5 L561.4,253.5 L560.3,255.3 L562.1,256.4 L563.3,259.8 L563.6,262.4Z" fill="#ffeda0"/>
<path d="M563.6,262.4 L564.8,262.6 L566.9,261.6 L567.8,260.0 L569.8,261.3 L570.3,263.2 L571.5,265.5 L571.7,262.2 L570.9,258.2 L569.4,257.2 L568.2,259.5 L568.5,255.6 L570.1,254.6 L567.9,253.8 L564.1,253.5 L564.0,251.7 L560.6,250.7 L560.1,252.5 L561.4,253.5 L560.3,255.3 L562.1,256.4 L563.3,259.8 L563.6,262.4Z" fill="#fed976"/>
<path d="M571.5,265.5 L572.7,266.0 L574.5,267.6 L576.0,270.5 L577.6,273.9 L577.7,277.8 L580.5,278.3 L583.0,275.2 L585.0,276.5 L585.3,279.1 L586.1,281.7 L586.8,284.3 L588.4,288.2 L589.2,292.9 L590.2,290.8 L590.9,288.2 L589.3,284.3 L587.8,280.9 L586.8,279.8 L588.1,277.2 L584.7,272.8 L585.2,271.2 L587.1,268.6 L589.3,266.6 L590.0,265.3 L591.4,264.2 L588.5,262.9 L586.5,261.9 L586.9,259.8 L584.7,257.2 L582.4,256.9 L581.5,254.3 L583.3,252.2 L582.8,247.8 L580.5,245.7 L579.3,246.0 L577.0,248.6 L575.5,250.1 L574.9,253.8 L574.3,257.2 L573.1,259.5 L573.0,261.6 L571.7,262.2 L571.5,265.5Z" fill="#ffeda0"/>
<path d="M589.3,266.6 L590.0,265.3 L591.4,264.2 L592.3,261.1 L593.2,261.1 L595.0,262.9 L595.8,265.0 L599.2,266.3 L598.4,268.6 L601.0,270.7 L602.6,272.5 L605.3,275.4 L606.3,277.2 L608.1,279.1 L608.3,281.1 L604.8,281.9 L603.7,281.9 L603.5,278.5 L601.4,276.7 L600.8,273.9 L597.3,271.5 L594.6,272.0 L592.8,273.9 L592.0,271.5 L592.3,268.6 L590.5,268.6 L589.3,266.6Z" fill="#fed976"/>
<path d="M598.5,289.1 L598.8,289.5 L600.4,292.1 L602.3,292.4 L603.7,291.1 L606.2,291.1 L605.1,289.2 L608.9,287.4 L608.8,284.3 L608.3,281.1 L604.8,281.9 L603.7,281.9 L601.1,282.0 L598.5,282.1 L597.1,284.0 L597.6,286.6 L598.5,289.1Z" fill="#ffffcc"/>
<path d="M199.9,288.6 L198.4,290.5 L199.0,292.1 L200.5,290.8 L202.4,289.2 L203.0,287.7 L203.3,289.5 L206.4,291.1 L209.6,291.8 L211.9,292.4 L215.3,292.9 L218.8,291.6 L221.3,291.6 L219.9,292.6 L221.4,293.9 L223.6,297.0 L225.4,297.2 L223.9,299.1 L224.6,301.0 L222.7,302.0 L222.0,304.1 L223.5,305.9 L222.8,307.7 L218.6,309.0 L217.2,313.7 L215.8,312.9 L215.3,315.6 L212.3,317.4 L209.1,316.3 L208.4,313.7 L207.1,312.2 L208.2,310.9 L207.1,307.7 L208.1,305.1 L207.3,303.3 L203.6,303.6 L202.1,301.2 L199.4,300.7 L196.8,300.2 L197.1,298.6 L195.7,295.5 L196.9,293.4 L197.8,290.5 L199.9,288.6Z" fill="#ffeda0"/>
<path d="M225.4,297.2 L227.6,299.1 L229.4,301.7 L231.6,304.1 L229.7,309.0 L230.6,310.3 L231.9,311.9 L233.0,314.5 L230.7,315.3 L228.4,316.1 L225.4,313.5 L225.9,310.9 L225.3,309.0 L225.1,305.9 L223.5,305.9 L222.0,304.1 L222.7,302.0 L224.6,301.0 L223.9,299.1 L225.4,297.2Z" fill="#ffeda0"/>
<path d="M231.6,304.1 L233.9,304.1 L236.2,304.1 L239.0,304.5 L238.3,307.4 L237.7,310.3 L238.8,313.7 L236.5,312.9 L233.0,314.5 L231.9,311.9 L230.6,310.3 L229.7,309.0 L231.6,304.1Z" fill="#ffeda0"/>
<path d="M239.0,304.5 L242.8,306.6 L244.4,308.5 L242.8,311.1 L241.3,313.7 L238.8,313.7 L237.7,310.3 L238.3,307.4 L239.0,304.5Z" fill="url(#hatch)" stroke="#bbb"/>
<path d="M324.8,285.4 L327.4,284.8 L329.7,284.8 L331.5,284.7 L331.5,284.1 L329.7,284.0 L327.4,284.0 L325.3,284.0 L325.1,284.4Z" fill="#fed976"/>
<path d="M431.7,389.3 L432.4,386.7 L433.3,386.4 L434.5,387.0 L434.6,389.3 L433.9,390.6 L432.5,390.6Z" fill="#fed976"/>
<path d="M422.8,396.6 L424.7,394.8 L426.5,394.0 L428.2,395.8 L427.4,397.6 L425.3,399.2 L423.5,398.4Z" fill="#feb24c"/>
<path d="M540.6,244.4 L542.0,240.8 L544.1,240.5 L548.0,243.1 L551.7,244.9 L554.3,246.7 L556.6,246.7 L559.0,246.7 L559.8,249.9 L557.3,250.7 L553.8,249.9 L550.1,248.1 L547.9,248.3 L545.6,247.5 L543.2,246.7Z" fill="#fed976"/>
<path d="M561.1,248.3 L562.1,246.0 L564.5,246.4 L566.8,246.7 L567.9,247.0 L568.3,249.6 L564.9,249.6 L561.5,249.4Z" fill="#ffeda0"/>
<path d="M465.2,210.6 L466.0,211.4 L467.7,213.7 L469.7,214.1 L468.8,214.7 L468.0,215.8 L467.7,216.6 L467.6,219.4 L465.5,218.4 L465.8,216.8 L463.0,216.6 L462.2,218.1 L461.9,216.3 L460.2,215.3 L459.3,212.7 L458.2,212.4 L461.1,212.4 L461.0,210.6 L462.6,211.1 L463.8,211.9Z" fill="#fed976"/>
<path d="M458.2,216.0 L459.8,216.6 L461.4,218.1 L459.6,217.8 L458.4,217.1Z" fill="#fed976"/>
<path d="M197.0,267.7 L198.4,267.5 L200.7,268.0 L200.6,270.2 L200.1,271.2 L200.4,272.4 L197.9,272.2 L194.8,272.0 L194.3,271.4 L196.7,271.1 L198.7,271.0 L198.3,269.7 L198.3,268.8Z" fill="#fed976"/>
<path d="M733.8,372.1 L736.6,374.2 L739.2,377.6 L737.1,376.8 L734.5,373.7Z" fill="url(#hatch)" stroke="#bbb"/>
<path d="M582.1,304.9 L584.6,305.4 L587.2,305.9 L590.1,309.8 L593.9,313.7 L596.7,315.0 L600.2,318.2 L602.4,322.1 L603.5,324.4 L606.4,328.6 L606.4,331.6 L606.4,334.6 L603.2,334.8 L601.0,332.2 L598.1,328.8 L595.5,325.2 L593.7,320.8 L591.2,316.9 L589.3,313.5 L586.2,309.8 L582.6,306.7Z" fill="#ffeda0"/>
<path d="M604.7,337.2 L606.6,334.8 L610.1,335.4 L612.3,336.1 L615.7,337.4 L618.0,336.4 L621.7,337.4 L625.9,339.8 L625.5,342.1 L622.8,341.6 L620.0,341.1 L617.8,340.8 L615.5,340.6 L613.2,340.2 L611.0,339.8 L607.3,338.7Z" fill="#ffeda0"/>
<path d="M625.8,340.8 L628.3,341.6 L627.3,342.4 L626.0,341.6Z" fill="#ffeda0"/>
<path d="M629.2,341.1 L630.8,341.4 L630.0,342.7 L629.1,342.4Z" fill="#ffeda0"/>
<path d="M631.5,341.4 L633.8,341.1 L636.1,340.8 L636.3,342.1 L632.5,342.9Z" fill="#ffeda0"/>
<path d="M637.9,341.4 L641.8,341.6 L645.3,340.8 L644.0,342.4 L641.7,342.4 L639.4,342.4Z" fill="#ffeda0"/>
<path d="M635.9,344.0 L640.0,344.5 L639.1,346.0 L636.7,345.0Z" fill="#ffeda0"/>
<path d="M646.0,346.3 L648.4,344.5 L650.9,342.9 L654.9,341.4 L653.4,342.7 L649.6,344.5 L647.1,346.3Z" fill="#ffeda0"/>
<path d="M636.9,325.2 L638.1,320.5 L639.5,318.2 L641.1,316.1 L643.9,316.9 L647.3,317.1 L649.6,316.6 L651.2,315.6 L649.7,318.4 L646.2,318.2 L643.9,318.2 L641.6,318.2 L640.0,321.8 L643.0,322.1 L646.9,321.5 L644.5,324.7 L643.7,327.3 L645.9,330.9 L644.6,333.0 L642.7,331.2 L642.1,327.3 L641.0,326.5 L641.3,329.9 L639.8,333.8 L637.7,333.8 L637.7,331.2 L637.7,328.6Z" fill="#ffeda0"/>
<path d="M656.5,314.8 L657.7,317.1 L659.5,315.6 L657.5,320.0 L658.2,321.5 L656.6,319.5 L656.1,316.9Z" fill="#ffeda0"/>
<path d="M657.5,327.5 L659.8,327.3 L662.2,327.0 L663.9,329.4 L660.9,328.6 L658.2,328.8Z" fill="#ffeda0"/>
<path d="M652.9,327.5 L655.5,327.8 L655.1,329.6 L653.1,329.4Z" fill="#ffeda0"/>
<path d="M613.9,315.6 L615.3,314.5 L618.6,316.9 L622.0,315.6 L625.4,315.6 L627.2,314.2 L628.8,311.1 L629.8,308.5 L633.5,308.5 L633.6,310.3 L634.6,313.5 L636.7,316.6 L634.4,317.4 L633.5,321.0 L631.2,322.8 L630.6,326.5 L629.9,329.1 L626.6,329.9 L623.0,327.8 L619.6,327.3 L616.6,327.0 L616.4,323.9 L614.2,320.8 L614.2,318.2Z" fill="#ffeda0"/>
<path d="M664.6,322.8 L667.6,320.5 L671.5,321.8 L671.9,325.5 L674.8,328.3 L677.1,325.8 L679.5,323.4 L682.9,325.2 L685.2,325.7 L687.5,326.2 L687.3,330.5 L687.1,334.7 L686.8,338.9 L686.4,343.2 L683.2,340.6 L679.7,341.4 L679.2,339.0 L681.6,337.7 L680.3,333.3 L677.1,332.1 L673.9,330.9 L670.6,329.4 L668.5,330.1 L666.8,326.8 L670.2,325.7 L666.8,325.2Z" fill="#ffeda0"/>
<path d="M475.8,350.6 L477.2,354.6 L478.1,359.3 L477.4,361.1 L476.0,363.5 L475.1,366.8 L473.9,369.8 L472.6,372.9 L471.2,377.2 L470.3,380.0 L469.4,382.8 L468.3,384.7 L464.0,386.2 L462.6,383.2 L461.2,380.3 L461.2,375.5 L463.2,372.4 L463.6,369.0 L463.3,366.4 L463.0,363.8 L465.8,362.1 L468.5,360.4 L471.4,357.2 L472.7,354.6Z" fill="#ffeda0"/>
</g>
<g fill="#fff" stroke="#5a5a5a" stroke-width="0.5">
<path d="M424.2,212.2 L426.3,212.3 L429.2,211.9 L431.4,210.6 L433.4,210.1 L436.3,210.0 L436.7,210.1 L438.7,210.9 L440.8,211.8 L443.3,212.8 L446.8,212.7 L450.4,211.4 L450.6,210.1 L449.8,208.3 L446.4,206.5 L443.2,204.2 L440.1,202.6 L438.5,201.9 L440.2,201.3 L441.9,199.0 L443.0,196.8 L440.5,197.3 L437.6,198.3 L434.7,199.3 L435.4,200.8 L436.2,201.6 L438.4,201.5 L436.1,202.4 L435.3,202.8 L433.8,203.8 L432.4,203.5 L432.3,202.1 L431.7,201.9 L430.0,201.5 L430.8,200.6 L432.2,199.8 L428.6,199.6 L427.4,198.3 L425.8,198.5 L425.1,200.3 L424.3,201.9 L422.6,203.7 L422.5,205.7 L421.4,207.0 L420.6,208.8 L421.9,210.3 L423.3,211.9Z"/>
<path d="M424.3,212.7 L425.0,213.3 L422.3,214.2 L420.2,214.3 L419.3,213.8 L421.1,212.8 L423.4,212.7Z"/>
<path d="M461.3,200.1 L463.3,198.8 L466.1,197.8 L468.8,197.0 L471.3,197.5 L472.0,199.3 L472.2,201.6 L468.9,202.4 L468.6,203.7 L467.2,203.9 L470.0,206.7 L472.8,208.0 L474.0,210.6 L474.7,212.7 L475.7,211.4 L475.5,215.3 L476.7,217.1 L478.0,218.1 L478.9,222.3 L477.2,223.3 L474.0,223.8 L471.2,222.5 L468.4,221.5 L467.6,219.4 L467.7,216.6 L468.0,215.8 L468.8,214.7 L469.7,214.1 L467.7,213.7 L466.0,211.4 L464.7,210.1 L462.2,207.5 L461.2,204.9 L460.1,202.9 L460.5,200.8Z"/>
</g>
<g fill="none" stroke="#5a5a5a" stroke-width="0.5" stroke-linejoin="round">
<path d="M115.6,192.2 L119.6,192.2 L123.6,192.2 L127.6,192.2 L131.6,192.2 L135.6,192.2 L139.6,192.2 L143.6,192.2 L147.6,192.2 L151.6,192.2 L155.6,192.2 L159.6,192.2 L163.6,192.2 L167.6,192.2 L171.6,192.2 L172.1,191.2 L172.3,192.9 L175.4,193.2 L177.9,194.5 L181.6,194.7 L185.1,194.2 L187.6,195.9 L190.1,197.5 L191.1,198.5 L191.8,199.8 L193.0,202.4 L191.9,204.9 L190.8,207.5 L188.6,210.1 L189.6,210.9 L193.8,209.4 L197.9,208.0 L198.5,206.5 L201.2,206.4 L203.8,206.2 L204.9,204.4 L208.9,202.4 L212.2,202.4 L215.5,202.4 L217.3,201.3 L220.1,198.0 L222.4,196.1 L224.2,196.4 L225.0,197.0 L223.8,200.6 L224.6,202.9"/>
<path d="M128.8,142.9 L123.8,147.1 L118.8,151.3 L114.0,155.6 L109.2,159.9 L104.6,164.4 L106.0,164.7 L107.5,165.1 L108.4,167.0 L110.9,166.3 L113.5,165.5 L113.8,167.1 L114.2,168.7 L113.1,173.3 L115.0,175.0 L111.4,177.9"/>
<path d="M106.4,234.7 L109.2,234.5 L111.9,234.2 L115.3,236.0 L118.8,237.8 L121.9,237.8 L125.0,237.8 L125.3,236.6 L129.1,236.6 L130.4,239.5 L131.8,242.3 L134.7,243.9 L136.6,241.8 L138.8,241.8 L140.1,244.8 L141.5,247.8 L141.8,250.7 L145.9,251.8"/>
<path d="M152.7,281.5 L153.0,279.7 L154.4,277.6 L157.2,277.6 L157.3,276.7 L155.4,274.5 L156.4,274.5 L156.6,273.0 L160.7,273.0 L162.9,271.3"/>
<path d="M160.7,273.0 L160.0,278.0 L160.7,278.0"/>
<path d="M162.2,278.5 L159.6,281.4 L159.3,281.9 L157.4,283.6"/>
<path d="M159.3,281.9 L161.1,283.0 L162.7,283.2 L162.9,285.1"/>
<path d="M163.6,285.8 L165.6,283.5 L169.1,283.0 L170.4,281.4 L173.5,280.4"/>
<path d="M166.8,290.6 L169.1,290.7 L171.5,291.0"/>
<path d="M172.8,298.5 L172.9,296.3 L173.8,294.5"/>
<path d="M184.2,300.7 L184.9,299.7 L185.6,296.9"/>
<path d="M200.7,268.0 L200.6,270.2 L200.1,271.2 L200.4,272.4"/>
<path d="M209.1,316.3 L206.2,316.5 L203.3,316.6 L202.4,315.0 L201.9,317.9 L203.0,319.5 L201.9,320.2 L203.3,322.1 L202.8,326.2 L202.3,330.4"/>
<path d="M202.3,330.4 L200.4,329.4 L197.4,325.7 L193.9,322.8 L189.7,319.7"/>
<path d="M189.7,319.7 L185.8,318.4 L183.5,317.1 L181.2,315.8"/>
<path d="M189.7,319.7 L189.1,323.6 L185.9,326.0 L182.7,328.6 L180.9,331.2 L178.4,330.9 L178.3,328.3"/>
<path d="M202.3,330.4 L198.9,331.4 L195.5,332.5 L194.9,336.4 L193.2,339.0 L195.7,344.0 L197.6,345.5 L201.6,348.1 L203.7,348.0"/>
<path d="M203.7,348.0 L206.0,352.3 L205.6,356.5 L205.0,360.1 L206.1,362.5 L205.2,365.1 L203.4,367.3"/>
<path d="M205.2,365.1 L207.9,369.0 L208.3,372.9 L210.0,376.8 L212.1,378.9"/>
<path d="M212.1,378.9 L209.7,383.3 L210.0,386.6 L210.3,389.8 L209.6,393.7 L209.0,397.6 L209.4,401.6 L209.9,405.5 L210.1,408.7 L210.4,412.0 L210.4,415.2 L210.5,418.5 L210.9,421.7 L211.3,425.0 L212.4,428.8 L213.6,432.7 L214.7,435.3 L215.8,437.8 L215.8,440.4 L216.0,442.9 L216.0,445.5 L216.1,448.0 L219.6,451.8 L221.5,454.3 L224.4,454.5 L227.4,454.8 L228.7,455.0"/>
<path d="M228.6,455.8 L229.8,458.6 L231.1,461.5"/>
<path d="M212.1,378.9 L215.5,377.1 L218.4,378.9 L221.5,376.8"/>
<path d="M221.5,376.8 L222.5,374.2 L223.5,371.6 L227.2,369.8 L231.4,371.1"/>
<path d="M231.4,371.1 L232.6,366.9 L230.2,361.9 L226.1,361.9 L225.5,358.7 L224.9,355.4 L221.7,354.6 L218.1,352.0 L215.6,352.0 L213.6,349.4 L213.1,344.7 L210.4,345.3 L207.3,347.3 L203.7,348.0"/>
<path d="M221.5,376.8 L226.1,381.5 L229.6,383.3 L233.3,385.9 L232.5,390.3 L234.9,390.6 L237.2,390.9 L240.4,389.3 L240.9,386.2"/>
<path d="M231.4,371.1 L232.0,372.9 L232.8,377.1 L235.1,377.3 L237.4,377.6 L238.7,382.0 L241.2,382.0 L240.9,386.2"/>
<path d="M240.9,386.2 L242.8,387.0 L243.5,389.6 L241.5,391.0 L239.4,392.4 L237.6,395.3 L235.8,398.2"/>
<path d="M235.8,398.2 L235.5,402.9 L235.8,407.8"/>
<path d="M235.8,398.2 L239.6,400.0 L242.0,401.0 L244.9,402.9 L246.5,404.4 L246.6,407.3"/>
<path d="M344.4,210.4 L345.8,210.1 L349.2,210.2 L348.5,212.7 L348.4,214.5 L348.2,216.0 L347.1,216.3 L347.9,218.4 L347.4,219.4 L347.1,222.6"/>
<path d="M359.3,206.6 L360.1,207.3 L363.1,208.3 L364.5,207.9 L366.6,208.8 L369.8,208.9"/>
<path d="M368.1,186.9 L369.4,187.9 L371.4,188.9 L372.6,189.7 L373.9,190.7 L374.7,190.9 L375.9,191.0 L377.1,191.9 L379.5,192.2 L378.5,195.7 L377.3,196.0 L375.5,197.5 L375.5,199.3 L377.0,199.8 L377.4,200.1 L376.7,202.1 L377.6,204.4 L378.6,205.5"/>
<path d="M369.7,186.2 L371.6,186.1 L372.9,185.9 L374.5,186.6 L374.4,187.8 L375.4,188.9 L375.2,189.4 L374.7,190.9"/>
<path d="M375.2,189.4 L375.9,191.0"/>
<path d="M374.4,187.8 L374.9,186.6 L374.7,185.1 L376.4,184.9 L376.2,183.4 L376.8,183.1 L377.1,181.4"/>
<path d="M379.7,177.4 L381.2,177.7"/>
<path d="M390.6,179.9 L391.1,181.4 L391.7,183.1 L392.0,184.6 L392.8,186.9 L391.4,187.1 L388.0,188.6 L387.2,188.9 L388.1,190.2 L390.0,192.7 L390.9,192.9 L389.4,195.2 L387.8,195.7 L384.4,196.0 L382.5,195.9 L380.5,195.2 L378.5,195.7"/>
<path d="M382.5,195.9 L382.4,197.0 L384.3,197.5 L384.5,198.3 L383.5,199.0 L381.5,200.1 L380.4,198.8 L377.4,200.1"/>
<path d="M384.5,198.3 L387.9,197.3 L391.1,198.5 L393.7,198.3 L395.9,197.6 L396.6,196.0 L397.7,194.7 L397.1,193.2 L393.2,192.2 L390.9,192.9"/>
<path d="M392.8,186.9 L395.5,187.9 L396.6,189.2 L398.3,188.9 L400.2,189.9 L398.3,192.7 L397.1,193.2"/>
<path d="M400.2,189.9 L402.2,191.2 L405.2,191.2 L408.5,191.9 L408.7,190.2 L410.8,188.4 L409.7,185.9 L408.7,184.1 L409.7,182.1 L408.6,179.9 L407.1,178.8 L404.0,178.7 L401.0,178.5"/>
<path d="M407.1,178.8 L406.5,176.9 L403.9,176.7 L403.3,176.5"/>
<path d="M403.1,174.6 L404.8,173.8 L406.8,173.9 L408.7,174.0 L411.6,174.2 L413.9,175.5 L413.1,177.4 L411.4,179.2 L408.6,179.9"/>
<path d="M408.6,170.2 L410.8,170.1 L414.6,171.0 L416.7,174.2 L413.9,175.5"/>
<path d="M414.6,171.0 L414.9,169.9 L414.1,167.7 L414.9,166.3"/>
<path d="M416.7,174.2 L419.4,175.0 L422.1,175.7 L424.7,179.7 L424.2,181.9 L425.6,184.4 L423.4,186.4 L420.9,186.0 L418.3,185.6 L415.3,185.3 L412.3,184.9 L409.7,185.9"/>
<path d="M425.6,184.4 L427.7,184.1 L429.8,183.9 L433.5,188.1 L436.2,188.9 L439.0,189.7 L441.2,190.2 L443.4,190.7 L443.9,194.0 L440.8,195.7 L440.9,197.0"/>
<path d="M408.5,191.9 L407.9,193.7 L409.4,194.7 L412.7,194.8 L414.8,194.5 L416.8,194.1 L419.6,194.0 L422.2,195.0 L424.4,198.5 L422.2,199.3 L421.1,201.1 L424.3,201.9"/>
<path d="M416.8,194.1 L418.9,196.0 L420.5,198.3 L421.1,201.1"/>
<path d="M397.7,194.7 L401.2,195.2 L403.5,194.2 L405.7,194.0 L407.9,193.7"/>
<path d="M395.9,197.6 L397.0,198.5 L398.5,199.9 L401.6,200.1 L404.6,199.4 L406.9,197.8 L409.4,194.7"/>
<path d="M391.1,198.5 L390.7,199.3 L391.0,200.7"/>
<path d="M397.0,198.5 L395.0,199.3 L394.5,201.1 L390.8,201.1"/>
<path d="M401.6,200.1 L402.2,201.9 L402.3,202.6 L400.2,202.2 L398.1,201.9 L395.6,201.9 L396.0,203.7 L397.3,205.2 L399.8,207.3 L401.8,208.9"/>
<path d="M402.3,202.6 L403.3,204.9 L403.0,206.2 L401.8,208.9"/>
<path d="M403.0,206.2 L405.1,208.5 L404.3,208.5 L403.7,210.3"/>
<path d="M405.1,208.5 L406.3,210.3 L408.1,209.6 L410.0,209.3"/>
<path d="M404.6,199.4 L407.1,201.9 L409.6,203.4 L410.1,204.4 L409.8,207.5 L410.0,209.3 L411.5,211.9 L409.4,212.3 L407.4,213.1 L406.3,212.7 L406.3,210.3"/>
<path d="M407.4,213.1 L406.9,215.0 L405.5,216.0"/>
<path d="M411.5,211.9 L414.6,211.1 L417.7,210.9 L418.4,210.9 L419.1,211.9 L418.1,213.3"/>
<path d="M418.4,210.9 L419.7,210.1 L421.9,210.3"/>
<path d="M410.1,204.4 L412.9,205.7 L416.1,205.8 L419.1,204.7 L422.5,205.7"/>
<path d="M383.7,167.5 L384.8,165.3 L385.8,162.7 L385.1,160.3 L384.7,158.0 L387.7,154.5 L389.0,151.1 L391.1,147.7 L393.4,145.5 L394.9,144.9 L396.5,144.3 L398.1,143.9 L399.9,144.5 L401.7,145.0 L403.4,145.1 L405.1,145.2 L406.1,142.4 L409.0,142.0 L411.2,142.8 L411.4,144.3 L414.1,142.6"/>
<path d="M396.5,144.3 L397.6,145.5 L400.0,146.5 L402.5,147.5 L403.7,150.2 L404.9,151.4"/>
<path d="M411.4,144.3 L411.0,146.1 L414.0,147.2 L412.9,149.0 L415.3,151.8 L415.2,154.0 L417.2,155.9 L419.3,158.2 L418.0,160.0 L416.6,161.7 L413.9,163.8"/>
<path d="M351.0,179.4 L348.7,179.4 L347.2,178.4 L349.0,176.9"/>
<path d="M463.3,198.8 L461.8,196.0 L458.8,195.2 L456.9,193.4 L457.9,191.7 L456.9,191.2 L458.6,189.7 L460.1,188.1 L463.0,185.6 L466.6,185.9 L470.2,187.0 L473.9,188.1 L477.1,187.1 L480.4,188.1 L482.1,187.1 L483.7,186.1 L481.3,184.9 L484.0,183.6 L482.1,182.9 L483.3,179.9 L486.1,179.0 L488.8,178.2 L491.3,177.7 L493.8,177.2 L495.5,176.8 L497.3,176.5 L500.4,179.2 L503.0,179.4 L505.5,179.7 L506.1,180.9 L508.1,179.9 L510.0,178.9 L514.1,181.4 L518.1,184.5 L522.0,187.6 L525.1,187.9 L526.9,187.5 L528.7,187.1 L532.9,189.7 L536.7,190.2 L538.7,191.9 L539.5,191.7"/>
<path d="M538.7,191.9 L536.6,193.4 L537.2,197.0 L534.6,196.9 L532.0,196.8 L532.3,201.1 L530.3,201.7 L528.3,202.4 L530.1,204.9 L531.4,210.0"/>
<path d="M539.5,191.7 L542.3,194.7 L546.3,195.5 L549.1,198.5 L549.2,201.1 L552.1,201.7 L554.9,202.4 L559.4,205.3 L563.8,208.3 L566.6,208.4 L569.4,208.5 L572.3,208.5 L576.2,209.4 L580.1,210.3 L584.0,211.1 L585.6,210.2 L587.3,209.3 L590.8,208.9 L594.2,208.5 L595.9,205.7 L594.2,203.7 L597.5,202.9 L599.4,201.7 L601.4,200.6 L603.9,198.5 L605.8,198.3 L607.7,198.0 L607.1,197.0 L604.2,196.2 L601.3,195.5 L598.3,195.2 L596.8,194.5 L596.5,190.2"/>
<path d="M539.5,191.7 L542.0,189.9 L544.0,188.9 L546.0,187.9 L548.9,188.8 L551.9,189.7 L555.0,189.9 L558.1,190.2 L557.4,187.4 L556.6,184.6 L559.3,185.1 L562.1,185.8 L564.9,186.4 L566.7,188.4 L570.4,188.9 L572.9,188.9 L575.4,188.9 L579.6,190.9 L582.3,191.3 L585.1,191.7 L586.8,191.2 L588.5,190.7 L590.0,189.9 L591.5,189.2 L594.0,189.7 L596.5,190.2"/>
<path d="M596.5,190.2 L599.2,190.9 L600.7,188.9 L599.7,185.1 L599.8,183.1 L601.6,181.1 L604.8,181.5 L608.1,181.9 L612.3,184.9 L616.5,187.9 L619.8,189.7 L623.1,191.4 L628.9,195.5 L630.5,195.0 L632.2,194.5 L635.3,194.0 L636.2,196.8 L636.8,199.3 L637.3,201.9 L634.7,201.6 L633.7,202.9 L636.9,207.5 L636.5,208.8 L637.0,209.3"/>
<path d="M636.5,208.8 L634.7,209.1 L633.9,210.1 L632.5,211.4 L629.7,210.6 L628.1,212.9 L626.9,215.5"/>
<path d="M634.6,221.1 L635.2,219.7 L637.4,218.9"/>
<path d="M606.6,263.3 L603.1,260.0 L599.8,258.7 L597.1,260.0 L593.2,261.1"/>
<path d="M593.0,302.7 L595.2,304.6 L597.6,303.3"/>
<path d="M524.1,222.5 L523.4,223.0"/>
<path d="M450.4,211.4 L452.5,211.1 L454.8,212.4 L455.7,215.0 L458.2,216.0 L457.8,219.4 L459.4,222.5 L456.8,222.7 L454.3,222.8 L451.7,223.2 L449.2,223.6 L447.1,223.6 L444.9,223.6 L442.1,223.6 L442.1,225.1 L440.7,225.9"/>
<path d="M446.4,206.5 L448.5,206.7 L450.6,207.0 L454.6,208.3 L457.3,208.8 L461.0,210.6"/>
<path d="M458.2,212.4 L454.8,212.4"/>
<path d="M462.2,218.1 L461.4,218.4 L458.7,216.0 L458.2,216.0"/>
<path d="M459.4,222.5 L461.5,226.2 L463.3,228.2 L462.2,230.8 L463.7,233.5 L467.1,234.8 L468.2,237.4 L469.0,240.0 L470.4,241.4"/>
<path d="M454.3,222.8 L452.0,225.1 L452.2,229.8 L450.0,231.1 L447.8,232.4 L449.0,235.5 L452.0,236.3 L455.5,238.4 L458.8,240.9 L462.1,243.4 L466.1,243.6 L468.4,241.0 L469.2,241.4"/>
<path d="M466.1,243.6 L470.5,245.2"/>
<path d="M447.8,232.4 L445.8,233.8 L443.7,235.3 L441.4,234.2 L441.3,232.7 L439.8,233.2"/>
<path d="M441.0,228.2 L441.3,229.3 L442.2,229.3 L441.5,232.7"/>
<path d="M441.0,234.2 L441.1,237.4 L441.2,240.0 L440.5,242.6"/>
<path d="M449.0,235.5 L446.7,236.5 L444.4,237.4 L446.9,240.0 L445.9,241.3 L443.8,242.6 L440.6,243.0"/>
<path d="M460.2,276.7 L463.0,274.1 L465.8,274.2 L468.7,274.4 L470.8,272.5 L474.1,271.0 L477.4,270.5 L480.6,269.9 L480.8,269.9 L483.0,274.4 L483.6,276.2"/>
<path d="M480.8,269.9 L484.1,268.6 L487.4,267.3 L488.0,264.7 L488.6,262.1 L488.7,259.5 L488.8,256.9 L489.3,254.4"/>
<path d="M488.6,262.1 L485.0,261.0 L481.4,259.8 L478.8,256.3 L478.7,255.3"/>
<path d="M476.9,254.8 L477.8,255.3"/>
<path d="M461.0,210.6 L463.8,211.9 L465.2,210.6"/>
</g>
<rect x="127" y="537.1" width="48.8" height="11.1" fill="url(#hatch2)" stroke="#aaa" stroke-width="0.6"/>
<line x1="151.3" y1="533.6" x2="151.3" y2="537.1" stroke="#999" stroke-width="0.7"/>
<text x="151.3" y="530" text-anchor="middle" style="font-size:12.8px;fill:#5b5b5b">No data</text>
<rect x="195.3" y="537.1" width="58.6" height="11.1" fill="#ffffcc"/>
<rect x="253.9" y="537.1" width="58.6" height="11.1" fill="#ffeda0"/>
<rect x="312.5" y="537.1" width="58.6" height="11.1" fill="#fed976"/>
<rect x="371.1" y="537.1" width="58.6" height="11.1" fill="#feb24c"/>
<rect x="429.7" y="537.1" width="58.6" height="11.1" fill="#fd8d3c"/>
<rect x="488.3" y="537.1" width="58.6" height="11.1" fill="#fc4e2a"/>
<rect x="546.9" y="537.1" width="58.6" height="11.1" fill="#e31a1c"/>
<rect x="605.5" y="537.1" width="58.6" height="11.1" fill="#bd0026"/>
<path d="M664.1,537.1 L717,537.1 L722.1,542.6 L717,548.2 L664.1,548.2 Z" fill="#800026"/>
<rect x="195.3" y="537.1" width="468.8" height="11.1" fill="none" stroke="#999" stroke-width="0.5"/>
<line x1="195.3" y1="533.6" x2="195.3" y2="548.2" stroke="#999" stroke-width="0.6"/>
<text x="195.3" y="529.9" text-anchor="middle" style="font-size:12.8px;fill:#5b5b5b">0</text>
<line x1="253.9" y1="533.6" x2="253.9" y2="548.2" stroke="#999" stroke-width="0.6"/>
<text x="253.9" y="529.9" text-anchor="middle" style="font-size:12.8px;fill:#5b5b5b">50</text>
<line x1="312.5" y1="533.6" x2="312.5" y2="548.2" stroke="#999" stroke-width="0.6"/>
<text x="312.5" y="529.9" text-anchor="middle" style="font-size:12.8px;fill:#5b5b5b">100</text>
<line x1="371.1" y1="533.6" x2="371.1" y2="548.2" stroke="#999" stroke-width="0.6"/>
<text x="371.1" y="529.9" text-anchor="middle" style="font-size:12.8px;fill:#5b5b5b">150</text>
<line x1="429.7" y1="533.6" x2="429.7" y2="548.2" stroke="#999" stroke-width="0.6"/>
<text x="429.7" y="529.9" text-anchor="middle" style="font-size:12.8px;fill:#5b5b5b">200</text>
<line x1="488.3" y1="533.6" x2="488.3" y2="548.2" stroke="#999" stroke-width="0.6"/>
<text x="488.3" y="529.9" text-anchor="middle" style="font-size:12.8px;fill:#5b5b5b">250</text>
<line x1="546.9" y1="533.6" x2="546.9" y2="548.2" stroke="#999" stroke-width="0.6"/>
<text x="546.9" y="529.9" text-anchor="middle" style="font-size:12.8px;fill:#5b5b5b">300</text>
<line x1="605.5" y1="533.6" x2="605.5" y2="548.2" stroke="#999" stroke-width="0.6"/>
<text x="605.5" y="529.9" text-anchor="middle" style="font-size:12.8px;fill:#5b5b5b">350</text>
<line x1="664.1" y1="533.6" x2="664.1" y2="548.2" stroke="#999" stroke-width="0.6"/>
<text x="664.1" y="529.9" text-anchor="middle" style="font-size:12.8px;fill:#5b5b5b">400</text>
<text x="17" y="580.6" textLength="299" lengthAdjust="spacingAndGlyphs" style="font-size:12.6px;fill:#5b5b5b"><tspan style="font-weight:bold">Data source:</tspan> IHME, Global Burden of Disease (2025)</text>
<text x="584" y="580.4" textLength="251" lengthAdjust="spacingAndGlyphs" style="font-size:13px;fill:#5b5b5b">OurWorldinData.org/child-mortality | CC BY</text>
</svg>
</body></html>
